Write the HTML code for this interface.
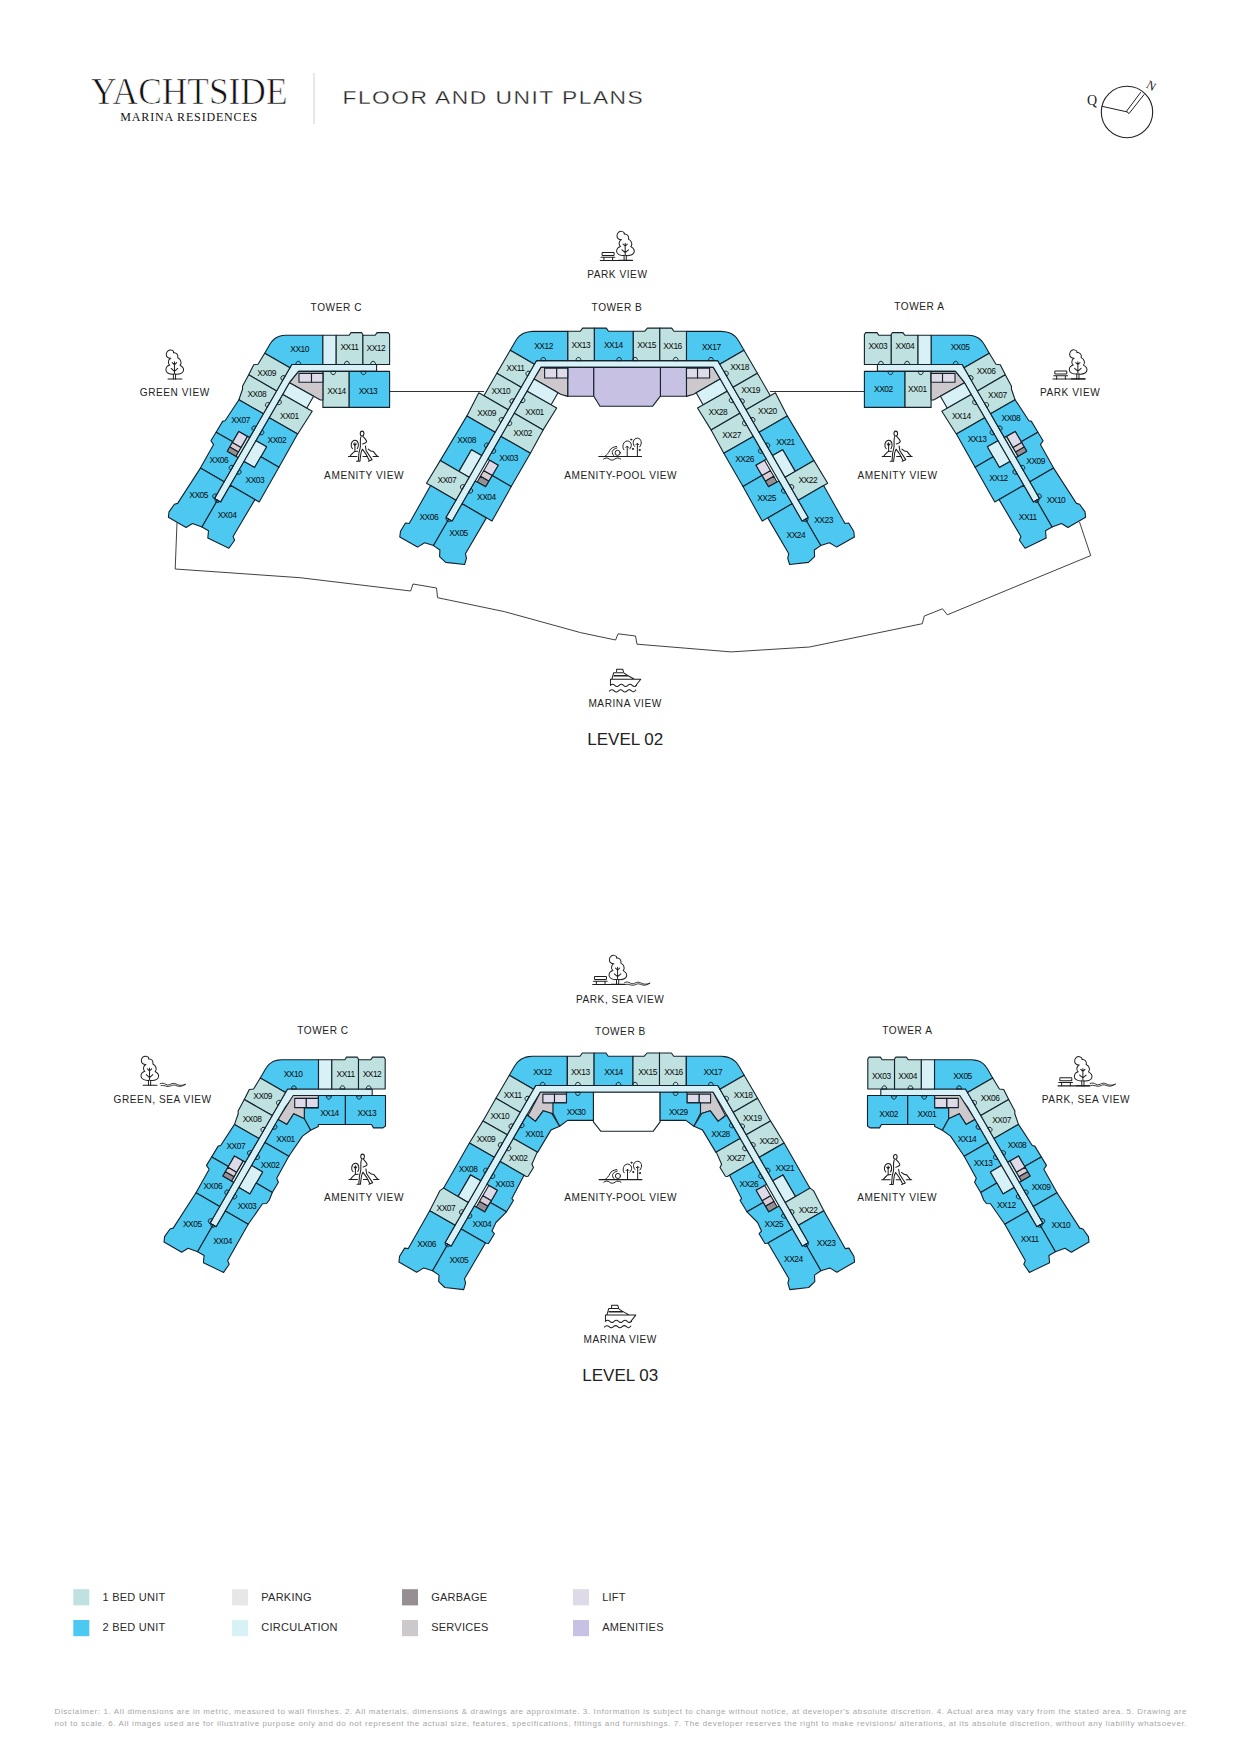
<!DOCTYPE html>
<html><head><meta charset="utf-8">
<style>
html,body{margin:0;padding:0;background:#fff;}
body{width:1241px;height:1754px;position:relative;overflow:hidden;font-family:"Liberation Sans",sans-serif;}
svg{position:absolute;left:0;top:0;}
</style></head><body>
<svg width="1241" height="1754" viewBox="0 0 1241 1754" font-family="Liberation Sans, sans-serif">

<text x="91" y="104.3" font-family="Liberation Serif, serif" font-size="37" textLength="196.5" lengthAdjust="spacingAndGlyphs" fill="#111" stroke="#fff" stroke-width="0.7">YACHTSIDE</text>
<text x="120.3" y="121" font-family="Liberation Serif, serif" font-size="12" textLength="137" lengthAdjust="spacing" fill="#111">MARINA RESIDENCES</text>
<line x1="314" y1="73" x2="314" y2="124" stroke="#d0d0d0" stroke-width="1"/>
<text transform="translate(342.5,103.9) scale(1.2,1)" font-size="19" letter-spacing="1.25" fill="#222" stroke="#fff" stroke-width="0.3">FLOOR AND UNIT PLANS</text>
<circle cx="1127" cy="112" r="25.7" fill="none" stroke="#222" stroke-width="1.1"/>
<path d="M1102,106.3 L1127.5,112 M1126.5,111.3 L1140.8,92.2 M1129,113.6 L1144.2,94.4 M1126.5,111.3 L1129,113.6" stroke="#222" stroke-width="1" fill="none"/>
<text x="1087" y="105" font-family="Liberation Serif, serif" font-size="14" fill="#222">Q</text>
<text x="0" y="0" font-family="Liberation Serif, serif" font-size="12" fill="#222" transform="translate(1145.5,87) rotate(30)">N</text>

<g fill="none" stroke="#2b2b2b" stroke-width="0.9">
<polyline points="177.0,522.7 175.2,569.0 300.0,577.7 410.7,591.0 413.0,584.0 436.5,588.0 437.6,597.7 504.7,611.7 580.5,632.6 615.6,640.0 618.0,633.8 635.5,636.0 637.0,644.2 731.0,651.9 809.5,647.0 922.3,623.7 924.3,616.0 942.5,608.8 947.3,614.8 1090.7,555.6 1079.5,522.0" fill="none" stroke="#2b2b2b" stroke-width="0.9"/>
<polyline points="389.6,391.5 484.0,391.5" fill="none" stroke="#333" stroke-width="1"/>
<polyline points="770.0,391.5 864.4,391.5" fill="none" stroke="#333" stroke-width="1"/>
</g>
<polygon points="445.9,517.6 536.5,360.6 717.7,360.6 808.3,517.6 802.1,521.2 720.1,379.0 713.2,367.4 541.0,367.4 534.1,379.0 452.1,521.2" fill="#d8f1f6" stroke="#13222c" stroke-width="1.1" stroke-linejoin="round"/>
<polygon points="567.7,360.6 567.7,331.3 580.3,331.3 582.6,328.1 594.4,328.1 594.4,360.6" fill="#bfe1df" stroke="#13222c" stroke-width="1.1" stroke-linejoin="round"/>
<polygon points="594.4,360.6 594.4,328.1 606.3,328.1 608.5,331.3 633.3,331.3 633.3,360.6" fill="#4dc8f1" stroke="#13222c" stroke-width="1.1" stroke-linejoin="round"/>
<polygon points="633.3,360.6 633.3,331.3 644.6,331.3 647.4,328.1 659.8,328.1 659.8,360.6" fill="#bfe1df" stroke="#13222c" stroke-width="1.1" stroke-linejoin="round"/>
<polygon points="659.8,360.6 659.8,328.1 671.7,328.1 674.0,331.3 686.5,331.3 686.5,360.6" fill="#bfe1df" stroke="#13222c" stroke-width="1.1" stroke-linejoin="round"/>
<polygon points="567.7,367.4 593.8,367.4 593.8,396.2 567.7,396.2" fill="#c7c2e3" stroke="#13222c" stroke-width="1.1" stroke-linejoin="round"/>
<polygon points="660.4,367.4 686.5,367.4 686.5,396.2 660.4,396.2" fill="#c7c2e3" stroke="#13222c" stroke-width="1.1" stroke-linejoin="round"/>
<polygon points="593.8,367.4 660.4,367.4 660.4,396.2 652.5,406.3 600.0,406.3 593.8,396.2" fill="#c7c2e3" stroke="#13222c" stroke-width="1.1" stroke-linejoin="round"/>
<polygon points="534.4,364.2 510.2,350.2 515.4,341.2 515.4,341.2 517.4,338.2 519.8,335.7 522.6,333.8 525.7,332.5 529.2,331.7 533.0,331.4 567.7,331.4 567.7,360.6 536.5,360.6" fill="#4dc8f1" stroke="#13222c" stroke-width="1.1" stroke-linejoin="round"/>
<polygon points="541.0,367.4 567.7,367.4 567.7,396.4 560.6,394.3 534.1,379.0" fill="#cdc8cb" stroke="#13222c" stroke-width="1.1" stroke-linejoin="round"/>
<polygon points="544.6,368.3 556.7,368.3 556.7,378.0 544.6,378.0" fill="#dedae8" stroke="#13222c" stroke-width="1.1" stroke-linejoin="round"/>
<polygon points="556.7,368.3 567.7,368.3 567.7,378.0 556.7,378.0" fill="#dedae8" stroke="#13222c" stroke-width="1.1" stroke-linejoin="round"/>
<polygon points="534.1,379.0 558.0,392.8 551.0,405.0 527.1,391.2" fill="#d8f1f6" stroke="#13222c" stroke-width="1.1" stroke-linejoin="round"/>
<polygon points="527.1,391.2 556.7,408.0 543.1,429.9 514.3,413.3" fill="#bfe1df" stroke="#13222c" stroke-width="1.1" stroke-linejoin="round"/>
<polygon points="510.2,350.2 496.8,373.2 521.1,387.2 534.4,364.2" fill="#bfe1df" stroke="#13222c" stroke-width="1.1" stroke-linejoin="round"/>
<polygon points="496.8,373.2 483.9,395.8 508.1,409.7 521.1,387.2" fill="#bfe1df" stroke="#13222c" stroke-width="1.1" stroke-linejoin="round"/>
<polygon points="478.8,392.8 466.9,415.9 495.1,432.2 508.1,409.7" fill="#bfe1df" stroke="#13222c" stroke-width="1.1" stroke-linejoin="round"/>
<polygon points="466.9,415.9 440.2,460.6 459.0,471.4 471.5,449.8 481.6,455.6 495.1,432.2" fill="#4dc8f1" stroke="#13222c" stroke-width="1.1" stroke-linejoin="round"/>
<polygon points="471.5,449.8 481.6,455.6 469.1,477.3 459.0,471.4" fill="#d8f1f6" stroke="#13222c" stroke-width="1.1" stroke-linejoin="round"/>
<polygon points="440.2,460.6 426.5,483.3 455.9,500.2 469.1,477.3" fill="#bfe1df" stroke="#13222c" stroke-width="1.1" stroke-linejoin="round"/>
<polygon points="430.6,485.6 409.2,523.5 405.5,523.0 400.5,531.2 399.8,536.9 417.5,547.1 424.7,542.8 433.5,545.6 448.7,519.2 445.9,517.6 455.9,500.2" fill="#4dc8f1" stroke="#13222c" stroke-width="1.1" stroke-linejoin="round"/>
<polygon points="514.3,413.3 543.1,429.9 530.4,453.3 501.0,436.4" fill="#bfe1df" stroke="#13222c" stroke-width="1.1" stroke-linejoin="round"/>
<polygon points="501.0,436.4 530.4,453.3 511.2,486.6 492.2,475.6 498.2,465.2 487.8,459.2" fill="#4dc8f1" stroke="#13222c" stroke-width="1.1" stroke-linejoin="round"/>
<polygon points="489.7,460.3 498.2,465.2 492.2,475.6 483.7,470.7" fill="#dedae8" stroke="#13222c" stroke-width="1.1" stroke-linejoin="round"/>
<polygon points="483.7,470.7 492.2,475.6 488.9,481.2 480.4,476.3" fill="#dccbd2" stroke="#13222c" stroke-width="1.1" stroke-linejoin="round"/>
<polygon points="480.4,476.3 488.9,481.2 485.7,486.8 477.2,481.9" fill="#958f93" stroke="#13222c" stroke-width="1.1" stroke-linejoin="round"/>
<polygon points="492.2,475.6 511.2,486.6 492.0,521.1 462.1,503.8 475.3,480.9 485.7,486.8" fill="#4dc8f1" stroke="#13222c" stroke-width="1.1" stroke-linejoin="round"/>
<polygon points="462.1,503.8 486.4,517.9 465.4,553.7 466.5,558.1 464.6,564.5 445.7,562.4 439.6,556.6 439.9,550.0 433.5,545.6 448.7,519.2 452.1,521.2" fill="#4dc8f1" stroke="#13222c" stroke-width="1.1" stroke-linejoin="round"/>
<polygon points="719.8,364.2 744.0,350.2 738.8,341.2 738.8,341.2 736.8,338.2 734.4,335.7 731.6,333.8 728.5,332.5 725.0,331.7 721.2,331.4 686.5,331.4 686.5,360.6 717.7,360.6" fill="#4dc8f1" stroke="#13222c" stroke-width="1.1" stroke-linejoin="round"/>
<polygon points="713.2,367.4 686.5,367.4 686.5,396.4 693.6,394.3 720.1,379.0" fill="#cdc8cb" stroke="#13222c" stroke-width="1.1" stroke-linejoin="round"/>
<polygon points="709.6,368.3 697.5,368.3 697.5,378.0 709.6,378.0" fill="#dedae8" stroke="#13222c" stroke-width="1.1" stroke-linejoin="round"/>
<polygon points="697.5,368.3 686.5,368.3 686.5,378.0 697.5,378.0" fill="#dedae8" stroke="#13222c" stroke-width="1.1" stroke-linejoin="round"/>
<polygon points="720.1,379.0 696.2,392.8 703.2,405.0 727.1,391.2" fill="#d8f1f6" stroke="#13222c" stroke-width="1.1" stroke-linejoin="round"/>
<polygon points="727.1,391.2 697.5,408.0 711.1,429.9 739.9,413.3" fill="#bfe1df" stroke="#13222c" stroke-width="1.1" stroke-linejoin="round"/>
<polygon points="744.0,350.2 757.4,373.2 733.1,387.2 719.8,364.2" fill="#bfe1df" stroke="#13222c" stroke-width="1.1" stroke-linejoin="round"/>
<polygon points="757.4,373.2 770.3,395.8 746.1,409.7 733.1,387.2" fill="#bfe1df" stroke="#13222c" stroke-width="1.1" stroke-linejoin="round"/>
<polygon points="775.4,392.8 787.3,415.9 759.1,432.2 746.1,409.7" fill="#bfe1df" stroke="#13222c" stroke-width="1.1" stroke-linejoin="round"/>
<polygon points="787.3,415.9 814.0,460.6 795.2,471.4 782.7,449.8 772.6,455.6 759.1,432.2" fill="#4dc8f1" stroke="#13222c" stroke-width="1.1" stroke-linejoin="round"/>
<polygon points="782.7,449.8 772.6,455.6 785.1,477.3 795.2,471.4" fill="#d8f1f6" stroke="#13222c" stroke-width="1.1" stroke-linejoin="round"/>
<polygon points="814.0,460.6 827.7,483.3 798.3,500.2 785.1,477.3" fill="#bfe1df" stroke="#13222c" stroke-width="1.1" stroke-linejoin="round"/>
<polygon points="823.6,485.6 845.0,523.5 848.7,523.0 853.7,531.2 854.4,536.9 836.7,547.1 829.5,542.8 820.7,545.6 805.5,519.2 808.3,517.6 798.3,500.2" fill="#4dc8f1" stroke="#13222c" stroke-width="1.1" stroke-linejoin="round"/>
<polygon points="739.9,413.3 711.1,429.9 723.8,453.3 753.2,436.4" fill="#bfe1df" stroke="#13222c" stroke-width="1.1" stroke-linejoin="round"/>
<polygon points="753.2,436.4 723.8,453.3 743.0,486.6 762.0,475.6 756.0,465.2 766.4,459.2" fill="#4dc8f1" stroke="#13222c" stroke-width="1.1" stroke-linejoin="round"/>
<polygon points="764.5,460.3 756.0,465.2 762.0,475.6 770.5,470.7" fill="#dedae8" stroke="#13222c" stroke-width="1.1" stroke-linejoin="round"/>
<polygon points="770.5,470.7 762.0,475.6 765.3,481.2 773.8,476.3" fill="#dccbd2" stroke="#13222c" stroke-width="1.1" stroke-linejoin="round"/>
<polygon points="773.8,476.3 765.3,481.2 768.5,486.8 777.0,481.9" fill="#958f93" stroke="#13222c" stroke-width="1.1" stroke-linejoin="round"/>
<polygon points="762.0,475.6 743.0,486.6 762.2,521.1 792.1,503.8 778.9,480.9 768.5,486.8" fill="#4dc8f1" stroke="#13222c" stroke-width="1.1" stroke-linejoin="round"/>
<polygon points="792.1,503.8 767.8,517.9 788.8,553.7 787.7,558.1 789.6,564.5 808.5,562.4 814.6,556.6 814.3,550.0 820.7,545.6 805.5,519.2 802.1,521.2" fill="#4dc8f1" stroke="#13222c" stroke-width="1.1" stroke-linejoin="round"/>
<polygon points="291.8,364.5 376.6,364.5 376.6,371.4 298.6,371.4 289.5,382.7 220.6,502.1 214.4,498.6" fill="#d8f1f6" stroke="#13222c" stroke-width="1.1" stroke-linejoin="round"/>
<polygon points="264.7,353.3 269.9,344.3 269.9,344.3 271.8,341.5 274.0,339.3 276.5,337.5 279.4,336.3 282.5,335.5 286.0,335.3 322.9,335.3 322.9,364.5 291.8,364.5 289.9,367.8" fill="#4dc8f1" stroke="#13222c" stroke-width="1.1" stroke-linejoin="round"/>
<polygon points="322.9,335.3 336.2,335.3 336.2,364.5 322.9,364.5" fill="#d8f1f6" stroke="#13222c" stroke-width="1.1" stroke-linejoin="round"/>
<polygon points="336.2,364.5 336.2,335.3 349.2,335.3 351.0,332.6 361.5,332.6 362.9,334.5 362.9,364.5" fill="#bfe1df" stroke="#13222c" stroke-width="1.1" stroke-linejoin="round"/>
<polygon points="362.9,364.5 362.9,335.3 375.2,335.3 377.0,332.6 388.3,332.6 389.6,334.5 389.6,364.5" fill="#bfe1df" stroke="#13222c" stroke-width="1.1" stroke-linejoin="round"/>
<polygon points="322.9,371.4 349.2,371.4 349.2,407.4 322.9,407.4" fill="#bfe1df" stroke="#13222c" stroke-width="1.1" stroke-linejoin="round"/>
<polygon points="349.2,371.4 389.6,371.4 389.6,407.4 349.2,407.4" fill="#4dc8f1" stroke="#13222c" stroke-width="1.1" stroke-linejoin="round"/>
<polygon points="298.6,371.4 322.9,371.4 322.9,400.0 320.4,400.0 289.5,382.7" fill="#cdc8cb" stroke="#13222c" stroke-width="1.1" stroke-linejoin="round"/>
<polygon points="299.0,373.4 311.5,373.4 311.5,382.3 299.0,382.3" fill="#dedae8" stroke="#13222c" stroke-width="1.1" stroke-linejoin="round"/>
<polygon points="311.5,373.4 322.9,373.4 322.9,382.3 311.5,382.3" fill="#dedae8" stroke="#13222c" stroke-width="1.1" stroke-linejoin="round"/>
<polygon points="289.5,382.7 313.6,396.3 306.7,408.3 282.8,394.4" fill="#d8f1f6" stroke="#13222c" stroke-width="1.1" stroke-linejoin="round"/>
<polygon points="282.8,394.4 312.2,411.2 297.7,434.0 269.3,417.8" fill="#bfe1df" stroke="#13222c" stroke-width="1.1" stroke-linejoin="round"/>
<polygon points="264.7,353.3 258.0,364.3 253.7,364.8 248.7,374.8 276.6,390.9 289.9,367.8" fill="#bfe1df" stroke="#13222c" stroke-width="1.1" stroke-linejoin="round"/>
<polygon points="248.7,374.8 242.5,386.2 242.6,389.0 238.9,399.7 263.4,413.8 276.6,390.9" fill="#bfe1df" stroke="#13222c" stroke-width="1.1" stroke-linejoin="round"/>
<polygon points="238.9,399.7 225.1,420.8 222.6,421.4 216.1,432.2 232.8,441.8 238.8,431.4 249.6,437.6 263.4,413.8" fill="#4dc8f1" stroke="#13222c" stroke-width="1.1" stroke-linejoin="round"/>
<polygon points="216.1,432.2 210.9,440.7 213.6,444.6 200.4,468.1 224.1,481.8 238.1,457.5 227.3,451.3 232.8,441.8" fill="#4dc8f1" stroke="#13222c" stroke-width="1.1" stroke-linejoin="round"/>
<polygon points="247.4,436.4 249.6,437.6 238.1,457.5 235.9,456.3" fill="#d8f1f6" stroke="#13222c" stroke-width="1.1" stroke-linejoin="round"/>
<polygon points="238.8,431.4 247.4,436.4 240.9,447.6 232.3,442.6" fill="#dedae8" stroke="#13222c" stroke-width="1.1" stroke-linejoin="round"/>
<polygon points="232.3,442.6 240.9,447.6 238.4,452.0 229.8,447.0" fill="#dccbd2" stroke="#13222c" stroke-width="1.1" stroke-linejoin="round"/>
<polygon points="229.8,447.0 238.4,452.0 235.9,456.3 227.3,451.3" fill="#958f93" stroke="#13222c" stroke-width="1.1" stroke-linejoin="round"/>
<polygon points="200.4,468.1 177.6,503.4 174.4,504.3 169.0,511.9 168.4,517.3 186.1,527.5 192.5,523.5 202.0,527.1 217.4,500.3 214.4,498.6 224.1,481.8" fill="#4dc8f1" stroke="#13222c" stroke-width="1.1" stroke-linejoin="round"/>
<polygon points="269.3,417.8 297.6,434.1 278.9,467.3 260.8,456.8 266.6,446.8 256.0,440.7" fill="#4dc8f1" stroke="#13222c" stroke-width="1.1" stroke-linejoin="round"/>
<polygon points="256.0,440.7 266.6,446.8 254.6,467.6 244.0,461.5" fill="#d8f1f6" stroke="#13222c" stroke-width="1.1" stroke-linejoin="round"/>
<polygon points="260.8,456.8 278.9,467.3 259.2,502.0 230.3,485.3 244.0,461.5 254.6,467.6" fill="#4dc8f1" stroke="#13222c" stroke-width="1.1" stroke-linejoin="round"/>
<polygon points="230.3,485.3 254.9,499.6 233.1,536.5 234.6,540.2 228.9,548.2 207.8,538.0 208.5,530.8 202.0,527.1 217.4,500.3 220.6,502.1" fill="#4dc8f1" stroke="#13222c" stroke-width="1.1" stroke-linejoin="round"/>
<polygon points="962.2,364.5 877.4,364.5 877.4,371.4 955.4,371.4 964.5,382.7 1033.4,502.1 1039.6,498.6" fill="#d8f1f6" stroke="#13222c" stroke-width="1.1" stroke-linejoin="round"/>
<polygon points="989.3,353.3 984.1,344.3 984.1,344.3 982.2,341.5 980.0,339.3 977.5,337.5 974.6,336.3 971.5,335.5 968.0,335.3 931.1,335.3 931.1,364.5 962.2,364.5 964.1,367.8" fill="#4dc8f1" stroke="#13222c" stroke-width="1.1" stroke-linejoin="round"/>
<polygon points="931.1,335.3 917.8,335.3 917.8,364.5 931.1,364.5" fill="#d8f1f6" stroke="#13222c" stroke-width="1.1" stroke-linejoin="round"/>
<polygon points="917.8,364.5 917.8,335.3 904.8,335.3 903.0,332.6 892.5,332.6 891.1,334.5 891.1,364.5" fill="#bfe1df" stroke="#13222c" stroke-width="1.1" stroke-linejoin="round"/>
<polygon points="891.1,364.5 891.1,335.3 878.8,335.3 877.0,332.6 865.7,332.6 864.4,334.5 864.4,364.5" fill="#bfe1df" stroke="#13222c" stroke-width="1.1" stroke-linejoin="round"/>
<polygon points="931.1,371.4 904.8,371.4 904.8,407.4 931.1,407.4" fill="#bfe1df" stroke="#13222c" stroke-width="1.1" stroke-linejoin="round"/>
<polygon points="904.8,371.4 864.4,371.4 864.4,407.4 904.8,407.4" fill="#4dc8f1" stroke="#13222c" stroke-width="1.1" stroke-linejoin="round"/>
<polygon points="955.4,371.4 931.1,371.4 931.1,400.0 933.6,400.0 964.5,382.7" fill="#cdc8cb" stroke="#13222c" stroke-width="1.1" stroke-linejoin="round"/>
<polygon points="955.0,373.4 942.5,373.4 942.5,382.3 955.0,382.3" fill="#dedae8" stroke="#13222c" stroke-width="1.1" stroke-linejoin="round"/>
<polygon points="942.5,373.4 931.1,373.4 931.1,382.3 942.5,382.3" fill="#dedae8" stroke="#13222c" stroke-width="1.1" stroke-linejoin="round"/>
<polygon points="964.5,382.7 940.4,396.3 947.3,408.3 971.2,394.4" fill="#d8f1f6" stroke="#13222c" stroke-width="1.1" stroke-linejoin="round"/>
<polygon points="971.2,394.4 941.8,411.2 956.3,434.0 984.7,417.8" fill="#bfe1df" stroke="#13222c" stroke-width="1.1" stroke-linejoin="round"/>
<polygon points="989.3,353.3 996.0,364.3 1000.3,364.8 1005.3,374.8 977.4,390.9 964.1,367.8" fill="#bfe1df" stroke="#13222c" stroke-width="1.1" stroke-linejoin="round"/>
<polygon points="1005.3,374.8 1011.5,386.2 1011.4,389.0 1015.1,399.7 990.6,413.8 977.4,390.9" fill="#bfe1df" stroke="#13222c" stroke-width="1.1" stroke-linejoin="round"/>
<polygon points="1015.1,399.7 1028.9,420.8 1031.4,421.4 1037.9,432.2 1021.2,441.8 1015.2,431.4 1004.4,437.6 990.6,413.8" fill="#4dc8f1" stroke="#13222c" stroke-width="1.1" stroke-linejoin="round"/>
<polygon points="1037.9,432.2 1043.1,440.7 1040.4,444.6 1053.6,468.1 1029.9,481.8 1015.9,457.5 1026.7,451.3 1021.2,441.8" fill="#4dc8f1" stroke="#13222c" stroke-width="1.1" stroke-linejoin="round"/>
<polygon points="1006.6,436.4 1004.4,437.6 1015.9,457.5 1018.1,456.3" fill="#d8f1f6" stroke="#13222c" stroke-width="1.1" stroke-linejoin="round"/>
<polygon points="1015.2,431.4 1006.6,436.4 1013.1,447.6 1021.7,442.6" fill="#dedae8" stroke="#13222c" stroke-width="1.1" stroke-linejoin="round"/>
<polygon points="1021.7,442.6 1013.1,447.6 1015.6,452.0 1024.2,447.0" fill="#dccbd2" stroke="#13222c" stroke-width="1.1" stroke-linejoin="round"/>
<polygon points="1024.2,447.0 1015.6,452.0 1018.1,456.3 1026.7,451.3" fill="#958f93" stroke="#13222c" stroke-width="1.1" stroke-linejoin="round"/>
<polygon points="1053.6,468.1 1076.4,503.4 1079.6,504.3 1085.0,511.9 1085.6,517.3 1067.9,527.5 1061.5,523.5 1052.0,527.1 1036.6,500.3 1039.6,498.6 1029.9,481.8" fill="#4dc8f1" stroke="#13222c" stroke-width="1.1" stroke-linejoin="round"/>
<polygon points="984.7,417.8 956.4,434.1 975.1,467.3 993.2,456.8 987.4,446.8 998.0,440.7" fill="#4dc8f1" stroke="#13222c" stroke-width="1.1" stroke-linejoin="round"/>
<polygon points="998.0,440.7 987.4,446.8 999.4,467.6 1010.0,461.5" fill="#d8f1f6" stroke="#13222c" stroke-width="1.1" stroke-linejoin="round"/>
<polygon points="993.2,456.8 975.1,467.3 994.8,502.0 1023.7,485.3 1010.0,461.5 999.4,467.6" fill="#4dc8f1" stroke="#13222c" stroke-width="1.1" stroke-linejoin="round"/>
<polygon points="1023.7,485.3 999.1,499.6 1020.9,536.5 1019.4,540.2 1025.1,548.2 1046.2,538.0 1045.5,530.8 1052.0,527.1 1036.6,500.3 1033.4,502.1" fill="#4dc8f1" stroke="#13222c" stroke-width="1.1" stroke-linejoin="round"/>
<polygon points="295.8,364.5 296.0,363.3 296.5,362.2 297.3,361.5 298.3,361.3 299.3,361.5 300.1,362.2 300.6,363.3 300.8,364.5" fill="none" stroke="#13222c" stroke-width="1"/>
<polygon points="958.2,364.5 958.0,363.3 957.5,362.2 956.7,361.5 955.7,361.3 954.7,361.5 953.9,362.2 953.4,363.3 953.2,364.5" fill="none" stroke="#13222c" stroke-width="1"/>
<polygon points="344.4,364.5 344.6,363.3 345.1,362.2 345.9,361.5 346.9,361.3 347.9,361.5 348.7,362.2 349.2,363.3 349.4,364.5" fill="none" stroke="#13222c" stroke-width="1"/>
<polygon points="909.6,364.5 909.4,363.3 908.9,362.2 908.1,361.5 907.1,361.3 906.1,361.5 905.3,362.2 904.8,363.3 904.6,364.5" fill="none" stroke="#13222c" stroke-width="1"/>
<polygon points="370.6,364.5 370.8,363.3 371.3,362.2 372.1,361.5 373.1,361.3 374.1,361.5 374.9,362.2 375.4,363.3 375.6,364.5" fill="none" stroke="#13222c" stroke-width="1"/>
<polygon points="883.4,364.5 883.2,363.3 882.7,362.2 881.9,361.5 880.9,361.3 879.9,361.5 879.1,362.2 878.6,363.3 878.4,364.5" fill="none" stroke="#13222c" stroke-width="1"/>
<polygon points="330.7,371.4 330.9,372.6 331.4,373.7 332.2,374.4 333.2,374.6 334.2,374.4 335.0,373.7 335.5,372.6 335.7,371.4" fill="none" stroke="#13222c" stroke-width="1"/>
<polygon points="923.3,371.4 923.1,372.6 922.6,373.7 921.8,374.4 920.8,374.6 919.8,374.4 919.0,373.7 918.5,372.6 918.3,371.4" fill="none" stroke="#13222c" stroke-width="1"/>
<polygon points="361.0,371.4 361.2,372.6 361.7,373.7 362.5,374.4 363.5,374.6 364.5,374.4 365.3,373.7 365.8,372.6 366.0,371.4" fill="none" stroke="#13222c" stroke-width="1"/>
<polygon points="893.0,371.4 892.8,372.6 892.3,373.7 891.5,374.4 890.5,374.6 889.5,374.4 888.7,373.7 888.2,372.6 888.0,371.4" fill="none" stroke="#13222c" stroke-width="1"/>
<polygon points="285.1,376.1 284.0,375.7 282.9,375.7 281.9,376.1 281.2,376.9 280.9,377.9 281.0,378.9 281.6,379.9 282.5,380.6" fill="none" stroke="#13222c" stroke-width="1"/>
<polygon points="968.9,376.1 970.0,375.7 971.1,375.7 972.1,376.1 972.8,376.9 973.1,377.9 973.0,378.9 972.4,379.9 971.5,380.6" fill="none" stroke="#13222c" stroke-width="1"/>
<polygon points="269.6,403.0 268.5,402.6 267.4,402.6 266.4,403.0 265.7,403.7 265.4,404.7 265.5,405.8 266.1,406.7 267.0,407.5" fill="none" stroke="#13222c" stroke-width="1"/>
<polygon points="984.4,403.0 985.5,402.6 986.6,402.6 987.6,403.0 988.3,403.7 988.6,404.7 988.5,405.8 987.9,406.7 987.0,407.5" fill="none" stroke="#13222c" stroke-width="1"/>
<polygon points="256.1,426.4 255.0,426.0 253.9,426.0 252.9,426.4 252.2,427.1 251.9,428.1 252.0,429.2 252.6,430.1 253.5,430.9" fill="none" stroke="#13222c" stroke-width="1"/>
<polygon points="997.9,426.4 999.0,426.0 1000.1,426.0 1001.1,426.4 1001.8,427.1 1002.1,428.1 1002.0,429.2 1001.4,430.1 1000.5,430.9" fill="none" stroke="#13222c" stroke-width="1"/>
<polygon points="233.4,465.8 232.3,465.4 231.1,465.4 230.2,465.8 229.5,466.5 229.2,467.5 229.3,468.6 229.9,469.5 230.8,470.3" fill="none" stroke="#13222c" stroke-width="1"/>
<polygon points="1020.6,465.8 1021.7,465.4 1022.9,465.4 1023.8,465.8 1024.5,466.5 1024.8,467.5 1024.7,468.6 1024.1,469.5 1023.2,470.3" fill="none" stroke="#13222c" stroke-width="1"/>
<polygon points="216.9,494.4 215.8,494.0 214.6,494.0 213.7,494.4 213.0,495.1 212.7,496.1 212.8,497.1 213.4,498.1 214.3,498.9" fill="none" stroke="#13222c" stroke-width="1"/>
<polygon points="1037.1,494.4 1038.2,494.0 1039.4,494.0 1040.3,494.4 1041.0,495.1 1041.3,496.1 1041.2,497.1 1040.6,498.1 1039.7,498.9" fill="none" stroke="#13222c" stroke-width="1"/>
<polygon points="279.8,399.6 280.6,400.4 281.2,401.3 281.3,402.4 281.0,403.4 280.4,404.1 279.4,404.5 278.2,404.5 277.2,404.1" fill="none" stroke="#13222c" stroke-width="1"/>
<polygon points="974.2,399.6 973.4,400.4 972.8,401.3 972.7,402.4 973.0,403.4 973.6,404.1 974.6,404.5 975.8,404.5 976.8,404.1" fill="none" stroke="#13222c" stroke-width="1"/>
<polygon points="262.3,429.9 263.1,430.7 263.7,431.6 263.8,432.7 263.5,433.7 262.9,434.4 261.9,434.8 260.7,434.8 259.7,434.4" fill="none" stroke="#13222c" stroke-width="1"/>
<polygon points="991.7,429.9 990.9,430.7 990.3,431.6 990.2,432.7 990.5,433.7 991.1,434.4 992.1,434.8 993.3,434.8 994.3,434.4" fill="none" stroke="#13222c" stroke-width="1"/>
<polygon points="239.5,469.3 240.4,470.1 241.0,471.0 241.1,472.1 240.8,473.1 240.1,473.8 239.1,474.2 238.0,474.2 236.9,473.8" fill="none" stroke="#13222c" stroke-width="1"/>
<polygon points="1014.5,469.3 1013.6,470.1 1013.0,471.0 1012.9,472.1 1013.2,473.1 1013.9,473.8 1014.9,474.2 1016.0,474.2 1017.1,473.8" fill="none" stroke="#13222c" stroke-width="1"/>
<polygon points="219.5,501.5 218.9,502.2 218.1,502.5 217.2,502.6 216.3,502.3 215.6,501.6 215.2,500.8 215.1,500.0 215.4,499.1" fill="none" stroke="#13222c" stroke-width="1"/>
<polygon points="1034.5,501.5 1035.1,502.2 1035.9,502.5 1036.8,502.6 1037.7,502.3 1038.4,501.6 1038.8,500.8 1038.9,500.0 1038.6,499.1" fill="none" stroke="#13222c" stroke-width="1"/>
<polygon points="540.7,360.6 540.9,359.4 541.4,358.3 542.2,357.6 543.2,357.4 544.2,357.6 545.0,358.3 545.5,359.4 545.7,360.6" fill="none" stroke="#13222c" stroke-width="1"/>
<polygon points="713.5,360.6 713.3,359.4 712.8,358.3 712.0,357.6 711.0,357.4 710.0,357.6 709.2,358.3 708.7,359.4 708.5,360.6" fill="none" stroke="#13222c" stroke-width="1"/>
<polygon points="576.0,360.6 576.2,359.4 576.7,358.3 577.5,357.6 578.5,357.4 579.5,357.6 580.3,358.3 580.8,359.4 581.0,360.6" fill="none" stroke="#13222c" stroke-width="1"/>
<polygon points="678.2,360.6 678.0,359.4 677.5,358.3 676.7,357.6 675.7,357.4 674.7,357.6 673.9,358.3 673.4,359.4 673.2,360.6" fill="none" stroke="#13222c" stroke-width="1"/>
<polygon points="616.6,360.6 616.8,359.4 617.3,358.3 618.1,357.6 619.1,357.4 620.1,357.6 620.9,358.3 621.4,359.4 621.6,360.6" fill="none" stroke="#13222c" stroke-width="1"/>
<polygon points="637.6,360.6 637.4,359.4 636.9,358.3 636.1,357.6 635.1,357.4 634.1,357.6 633.3,358.3 632.8,359.4 632.6,360.6" fill="none" stroke="#13222c" stroke-width="1"/>
<polygon points="530.1,371.6 529.0,371.2 527.9,371.2 526.9,371.6 526.2,372.4 525.9,373.4 526.1,374.4 526.6,375.4 527.5,376.1" fill="none" stroke="#13222c" stroke-width="1"/>
<polygon points="724.1,371.6 725.2,371.2 726.3,371.2 727.3,371.6 728.0,372.4 728.3,373.4 728.1,374.4 727.6,375.4 726.7,376.1" fill="none" stroke="#13222c" stroke-width="1"/>
<polygon points="514.1,399.3 513.0,398.9 511.9,398.9 510.9,399.3 510.2,400.1 509.9,401.1 510.1,402.1 510.6,403.1 511.5,403.8" fill="none" stroke="#13222c" stroke-width="1"/>
<polygon points="740.1,399.3 741.2,398.9 742.3,398.9 743.3,399.3 744.0,400.1 744.3,401.1 744.1,402.1 743.6,403.1 742.7,403.8" fill="none" stroke="#13222c" stroke-width="1"/>
<polygon points="503.4,418.0 502.3,417.6 501.1,417.6 500.2,418.0 499.5,418.7 499.2,419.7 499.3,420.7 499.9,421.7 500.8,422.5" fill="none" stroke="#13222c" stroke-width="1"/>
<polygon points="750.8,418.0 751.9,417.6 753.1,417.6 754.0,418.0 754.7,418.7 755.0,419.7 754.9,420.7 754.3,421.7 753.4,422.5" fill="none" stroke="#13222c" stroke-width="1"/>
<polygon points="488.6,443.5 487.5,443.1 486.4,443.1 485.4,443.5 484.7,444.3 484.4,445.2 484.6,446.3 485.1,447.3 486.0,448.0" fill="none" stroke="#13222c" stroke-width="1"/>
<polygon points="765.6,443.5 766.7,443.1 767.8,443.1 768.8,443.5 769.5,444.3 769.8,445.2 769.6,446.3 769.1,447.3 768.2,448.0" fill="none" stroke="#13222c" stroke-width="1"/>
<polygon points="464.6,485.1 463.5,484.7 462.4,484.7 461.4,485.1 460.7,485.8 460.4,486.8 460.6,487.9 461.1,488.8 462.0,489.6" fill="none" stroke="#13222c" stroke-width="1"/>
<polygon points="789.6,485.1 790.7,484.7 791.8,484.7 792.8,485.1 793.5,485.8 793.8,486.8 793.6,487.9 793.1,488.8 792.2,489.6" fill="none" stroke="#13222c" stroke-width="1"/>
<polygon points="523.3,397.7 524.2,398.5 524.8,399.5 524.9,400.5 524.6,401.5 523.9,402.2 523.0,402.6 521.8,402.6 520.7,402.2" fill="none" stroke="#13222c" stroke-width="1"/>
<polygon points="730.9,397.7 730.0,398.5 729.4,399.5 729.3,400.5 729.6,401.5 730.3,402.2 731.2,402.6 732.4,402.6 733.5,402.2" fill="none" stroke="#13222c" stroke-width="1"/>
<polygon points="510.1,420.7 511.0,421.4 511.6,422.4 511.7,423.5 511.4,424.4 510.7,425.2 509.7,425.6 508.6,425.6 507.5,425.2" fill="none" stroke="#13222c" stroke-width="1"/>
<polygon points="744.1,420.7 743.2,421.4 742.6,422.4 742.5,423.5 742.8,424.4 743.5,425.2 744.5,425.6 745.6,425.6 746.7,425.2" fill="none" stroke="#13222c" stroke-width="1"/>
<polygon points="494.1,448.4 495.0,449.2 495.6,450.1 495.7,451.2 495.4,452.2 494.7,452.9 493.7,453.3 492.6,453.3 491.5,452.9" fill="none" stroke="#13222c" stroke-width="1"/>
<polygon points="760.1,448.4 759.2,449.2 758.6,450.1 758.5,451.2 758.8,452.2 759.5,452.9 760.5,453.3 761.6,453.3 762.7,452.9" fill="none" stroke="#13222c" stroke-width="1"/>
<polygon points="471.1,488.2 472.0,489.0 472.6,490.0 472.7,491.0 472.4,492.0 471.7,492.7 470.7,493.1 469.6,493.1 468.5,492.7" fill="none" stroke="#13222c" stroke-width="1"/>
<polygon points="783.1,488.2 782.2,489.0 781.6,490.0 781.5,491.0 781.8,492.0 782.5,492.7 783.5,493.1 784.6,493.1 785.7,492.7" fill="none" stroke="#13222c" stroke-width="1"/>
<polygon points="451.0,520.5 450.3,521.2 449.5,521.6 448.5,521.6 447.5,521.3 446.7,520.6 446.3,519.8 446.2,518.8 446.5,517.9" fill="none" stroke="#13222c" stroke-width="1"/>
<polygon points="803.2,520.5 803.9,521.2 804.7,521.6 805.7,521.6 806.7,521.3 807.5,520.6 807.9,519.8 808.0,518.8 807.7,517.9" fill="none" stroke="#13222c" stroke-width="1"/>
<polygon points="445.0,1242.7 535.7,1085.5 717.8,1085.5 808.5,1242.7 802.3,1246.3 720.3,1104.1 713.1,1092.3 540.4,1092.3 533.2,1104.1 451.2,1246.3" fill="#d8f1f6" stroke="#13222c" stroke-width="1.1" stroke-linejoin="round"/>
<polygon points="567.4,1085.5 567.4,1056.2 580.0,1056.2 582.3,1053.0 594.1,1053.0 594.1,1085.5" fill="#bfe1df" stroke="#13222c" stroke-width="1.1" stroke-linejoin="round"/>
<polygon points="594.1,1085.5 594.1,1053.0 606.0,1053.0 608.2,1056.2 633.0,1056.2 633.0,1085.5" fill="#4dc8f1" stroke="#13222c" stroke-width="1.1" stroke-linejoin="round"/>
<polygon points="633.0,1085.5 633.0,1056.2 644.3,1056.2 647.1,1053.0 659.5,1053.0 659.5,1085.5" fill="#bfe1df" stroke="#13222c" stroke-width="1.1" stroke-linejoin="round"/>
<polygon points="659.5,1085.5 659.5,1053.0 671.4,1053.0 673.7,1056.2 686.2,1056.2 686.2,1085.5" fill="#bfe1df" stroke="#13222c" stroke-width="1.1" stroke-linejoin="round"/>
<polygon points="593.4,1092.3 660.1,1092.3 660.1,1121.9 653.1,1131.3 600.9,1131.3 593.4,1121.9" fill="#ffffff" stroke="#13222c" stroke-width="1.1" stroke-linejoin="round"/>
<polygon points="533.5,1089.3 509.3,1075.3 514.5,1066.3 514.5,1066.3 516.6,1063.2 519.1,1060.7 521.9,1058.8 525.1,1057.4 528.6,1056.6 532.4,1056.3 567.1,1056.3 567.1,1085.5 535.7,1085.5" fill="#4dc8f1" stroke="#13222c" stroke-width="1.1" stroke-linejoin="round"/>
<polygon points="540.4,1092.3 567.1,1092.3 567.1,1102.9 553.4,1102.9 553.4,1113.2 551.9,1113.6 543.2,1110.8 535.4,1121.4 528.1,1115.5" fill="#cdc8cb" stroke="#13222c" stroke-width="1.1" stroke-linejoin="round"/>
<polygon points="542.9,1094.1 554.5,1094.1 554.5,1102.9 542.9,1102.9" fill="#dedae8" stroke="#13222c" stroke-width="1.1" stroke-linejoin="round"/>
<polygon points="554.5,1094.1 566.5,1094.1 566.5,1102.9 554.5,1102.9" fill="#dedae8" stroke="#13222c" stroke-width="1.1" stroke-linejoin="round"/>
<polygon points="566.5,1092.3 593.4,1092.3 593.4,1120.4 567.6,1120.4 559.6,1126.2 553.0,1113.2 553.0,1102.9 566.5,1102.9" fill="#4dc8f1" stroke="#13222c" stroke-width="1.1" stroke-linejoin="round"/>
<polygon points="527.7,1115.6 535.4,1121.4 543.2,1110.8 551.9,1113.6 559.6,1126.2 550.9,1130.1 537.6,1152.4 513.4,1138.4 527.0,1114.9" fill="#4dc8f1" stroke="#13222c" stroke-width="1.1" stroke-linejoin="round"/>
<polygon points="509.3,1075.3 495.9,1098.3 520.2,1112.3 533.5,1089.3" fill="#bfe1df" stroke="#13222c" stroke-width="1.1" stroke-linejoin="round"/>
<polygon points="495.9,1098.3 483.0,1120.9 507.2,1134.8 520.2,1112.3" fill="#bfe1df" stroke="#13222c" stroke-width="1.1" stroke-linejoin="round"/>
<polygon points="483.0,1120.9 469.4,1143.0 494.2,1157.3 507.2,1134.8" fill="#bfe1df" stroke="#13222c" stroke-width="1.1" stroke-linejoin="round"/>
<polygon points="469.4,1143.0 442.8,1189.4 458.1,1196.5 470.6,1174.9 480.7,1180.7 494.2,1157.3" fill="#4dc8f1" stroke="#13222c" stroke-width="1.1" stroke-linejoin="round"/>
<polygon points="470.6,1174.9 480.7,1180.7 468.2,1202.4 458.1,1196.5" fill="#d8f1f6" stroke="#13222c" stroke-width="1.1" stroke-linejoin="round"/>
<polygon points="443.5,1188.1 440.0,1190.6 429.7,1210.7 455.0,1225.3 468.2,1202.4" fill="#bfe1df" stroke="#13222c" stroke-width="1.1" stroke-linejoin="round"/>
<polygon points="429.7,1210.7 408.3,1248.6 404.6,1248.1 399.6,1256.3 398.9,1262.0 416.6,1272.2 423.8,1267.9 432.6,1270.7 447.8,1244.3 445.0,1242.7 455.0,1225.3" fill="#4dc8f1" stroke="#13222c" stroke-width="1.1" stroke-linejoin="round"/>
<polygon points="513.4,1138.4 537.2,1152.1 531.9,1164.3 533.5,1167.5 528.1,1176.3 526.2,1176.5 500.1,1161.5" fill="#bfe1df" stroke="#13222c" stroke-width="1.1" stroke-linejoin="round"/>
<polygon points="500.1,1161.5 524.0,1175.3 511.9,1198.6 513.5,1200.3 506.5,1211.8 490.3,1202.4 497.3,1190.3 486.9,1184.3" fill="#4dc8f1" stroke="#13222c" stroke-width="1.1" stroke-linejoin="round"/>
<polygon points="488.8,1185.4 497.3,1190.3 491.3,1200.7 482.8,1195.8" fill="#dedae8" stroke="#13222c" stroke-width="1.1" stroke-linejoin="round"/>
<polygon points="482.8,1195.8 491.3,1200.7 488.0,1206.3 479.5,1201.4" fill="#dccbd2" stroke="#13222c" stroke-width="1.1" stroke-linejoin="round"/>
<polygon points="479.5,1201.4 488.0,1206.3 484.8,1211.9 476.3,1207.0" fill="#958f93" stroke="#13222c" stroke-width="1.1" stroke-linejoin="round"/>
<polygon points="490.3,1202.4 506.5,1211.8 495.9,1222.5 492.0,1231.1 494.4,1233.7 488.5,1243.5 486.0,1243.2 461.2,1228.9 474.4,1206.0 484.8,1211.9" fill="#4dc8f1" stroke="#13222c" stroke-width="1.1" stroke-linejoin="round"/>
<polygon points="461.2,1228.9 485.5,1243.0 464.5,1278.8 465.6,1283.2 463.7,1289.6 444.8,1287.5 438.7,1281.7 439.0,1275.1 432.6,1270.7 447.8,1244.3 451.2,1246.3" fill="#4dc8f1" stroke="#13222c" stroke-width="1.1" stroke-linejoin="round"/>
<polygon points="720.0,1089.3 744.2,1075.3 739.0,1066.3 739.0,1066.3 736.9,1063.2 734.4,1060.7 731.6,1058.8 728.4,1057.4 724.9,1056.6 721.1,1056.3 686.4,1056.3 686.4,1085.5 717.8,1085.5" fill="#4dc8f1" stroke="#13222c" stroke-width="1.1" stroke-linejoin="round"/>
<polygon points="713.1,1092.3 686.4,1092.3 686.4,1102.9 700.1,1102.9 700.1,1113.2 701.6,1113.6 710.3,1110.8 718.1,1121.4 725.4,1115.5" fill="#cdc8cb" stroke="#13222c" stroke-width="1.1" stroke-linejoin="round"/>
<polygon points="710.6,1094.1 699.0,1094.1 699.0,1102.9 710.6,1102.9" fill="#dedae8" stroke="#13222c" stroke-width="1.1" stroke-linejoin="round"/>
<polygon points="699.0,1094.1 687.0,1094.1 687.0,1102.9 699.0,1102.9" fill="#dedae8" stroke="#13222c" stroke-width="1.1" stroke-linejoin="round"/>
<polygon points="687.0,1092.3 660.1,1092.3 660.1,1120.4 685.9,1120.4 693.9,1126.2 700.5,1113.2 700.5,1102.9 687.0,1102.9" fill="#4dc8f1" stroke="#13222c" stroke-width="1.1" stroke-linejoin="round"/>
<polygon points="725.8,1115.6 718.1,1121.4 710.3,1110.8 701.6,1113.6 693.9,1126.2 702.6,1130.1 715.9,1152.4 740.1,1138.4 726.5,1114.9" fill="#4dc8f1" stroke="#13222c" stroke-width="1.1" stroke-linejoin="round"/>
<polygon points="744.2,1075.3 757.6,1098.3 733.3,1112.3 720.0,1089.3" fill="#bfe1df" stroke="#13222c" stroke-width="1.1" stroke-linejoin="round"/>
<polygon points="757.6,1098.3 770.5,1120.9 746.3,1134.8 733.3,1112.3" fill="#bfe1df" stroke="#13222c" stroke-width="1.1" stroke-linejoin="round"/>
<polygon points="770.5,1120.9 784.1,1143.0 759.3,1157.3 746.3,1134.8" fill="#bfe1df" stroke="#13222c" stroke-width="1.1" stroke-linejoin="round"/>
<polygon points="784.1,1143.0 810.7,1189.4 795.4,1196.5 782.9,1174.9 772.8,1180.7 759.3,1157.3" fill="#4dc8f1" stroke="#13222c" stroke-width="1.1" stroke-linejoin="round"/>
<polygon points="782.9,1174.9 772.8,1180.7 785.3,1202.4 795.4,1196.5" fill="#d8f1f6" stroke="#13222c" stroke-width="1.1" stroke-linejoin="round"/>
<polygon points="810.0,1188.1 813.5,1190.6 823.8,1210.7 798.5,1225.3 785.3,1202.4" fill="#bfe1df" stroke="#13222c" stroke-width="1.1" stroke-linejoin="round"/>
<polygon points="823.8,1210.7 845.2,1248.6 848.9,1248.1 853.9,1256.3 854.6,1262.0 836.9,1272.2 829.7,1267.9 820.9,1270.7 805.7,1244.3 808.5,1242.7 798.5,1225.3" fill="#4dc8f1" stroke="#13222c" stroke-width="1.1" stroke-linejoin="round"/>
<polygon points="740.1,1138.4 716.3,1152.1 721.6,1164.3 720.0,1167.5 725.4,1176.3 727.3,1176.5 753.4,1161.5" fill="#bfe1df" stroke="#13222c" stroke-width="1.1" stroke-linejoin="round"/>
<polygon points="753.4,1161.5 729.5,1175.3 741.6,1198.6 740.0,1200.3 747.0,1211.8 763.2,1202.4 756.2,1190.3 766.6,1184.3" fill="#4dc8f1" stroke="#13222c" stroke-width="1.1" stroke-linejoin="round"/>
<polygon points="764.7,1185.4 756.2,1190.3 762.2,1200.7 770.7,1195.8" fill="#dedae8" stroke="#13222c" stroke-width="1.1" stroke-linejoin="round"/>
<polygon points="770.7,1195.8 762.2,1200.7 765.5,1206.3 774.0,1201.4" fill="#dccbd2" stroke="#13222c" stroke-width="1.1" stroke-linejoin="round"/>
<polygon points="774.0,1201.4 765.5,1206.3 768.7,1211.9 777.2,1207.0" fill="#958f93" stroke="#13222c" stroke-width="1.1" stroke-linejoin="round"/>
<polygon points="763.2,1202.4 747.0,1211.8 757.6,1222.5 761.5,1231.1 759.1,1233.7 765.0,1243.5 767.5,1243.2 792.3,1228.9 779.1,1206.0 768.7,1211.9" fill="#4dc8f1" stroke="#13222c" stroke-width="1.1" stroke-linejoin="round"/>
<polygon points="792.3,1228.9 768.0,1243.0 789.0,1278.8 787.9,1283.2 789.8,1289.6 808.7,1287.5 814.8,1281.7 814.5,1275.1 820.9,1270.7 805.7,1244.3 802.3,1246.3" fill="#4dc8f1" stroke="#13222c" stroke-width="1.1" stroke-linejoin="round"/>
<polygon points="287.5,1089.0 372.2,1089.0 372.2,1095.9 294.2,1095.9 285.1,1107.4 216.2,1226.8 210.0,1223.3" fill="#d8f1f6" stroke="#13222c" stroke-width="1.1" stroke-linejoin="round"/>
<polygon points="260.3,1078.0 265.5,1069.0 265.5,1069.0 267.4,1066.2 269.6,1063.9 272.1,1062.1 275.0,1060.8 278.1,1060.1 281.6,1059.8 318.5,1059.8 318.5,1089.0 287.5,1089.0 285.5,1092.5" fill="#4dc8f1" stroke="#13222c" stroke-width="1.1" stroke-linejoin="round"/>
<polygon points="318.5,1059.8 331.8,1059.8 331.8,1089.0 318.5,1089.0" fill="#d8f1f6" stroke="#13222c" stroke-width="1.1" stroke-linejoin="round"/>
<polygon points="331.8,1089.0 331.8,1059.8 344.8,1059.8 346.6,1057.1 357.1,1057.1 358.5,1059.0 358.5,1089.0" fill="#bfe1df" stroke="#13222c" stroke-width="1.1" stroke-linejoin="round"/>
<polygon points="358.5,1089.0 358.5,1059.8 370.8,1059.8 372.6,1057.1 383.9,1057.1 385.2,1059.0 385.2,1089.0" fill="#bfe1df" stroke="#13222c" stroke-width="1.1" stroke-linejoin="round"/>
<polygon points="318.5,1095.5 345.4,1095.5 345.4,1124.5 318.3,1124.5 318.3,1126.4 310.6,1130.3 304.3,1118.7 304.3,1107.6 318.3,1107.6" fill="#4dc8f1" stroke="#13222c" stroke-width="1.1" stroke-linejoin="round"/>
<polygon points="345.4,1095.5 385.5,1095.5 385.5,1126.0 383.0,1127.9 373.5,1127.9 371.5,1124.5 345.4,1124.5" fill="#4dc8f1" stroke="#13222c" stroke-width="1.1" stroke-linejoin="round"/>
<polygon points="293.2,1095.5 318.3,1095.5 318.3,1107.6 304.3,1107.6 304.3,1118.7 293.7,1113.8 286.9,1124.5 278.1,1119.5" fill="#cdc8cb" stroke="#13222c" stroke-width="1.1" stroke-linejoin="round"/>
<polygon points="294.7,1098.4 306.3,1098.4 306.3,1107.6 294.7,1107.6" fill="#dedae8" stroke="#13222c" stroke-width="1.1" stroke-linejoin="round"/>
<polygon points="306.3,1098.4 318.3,1098.4 318.3,1107.6 306.3,1107.6" fill="#dedae8" stroke="#13222c" stroke-width="1.1" stroke-linejoin="round"/>
<polygon points="278.1,1119.5 286.9,1124.5 293.7,1113.8 304.3,1118.7 310.6,1130.3 302.5,1136.1 288.8,1156.3 264.9,1142.5" fill="#4dc8f1" stroke="#13222c" stroke-width="1.1" stroke-linejoin="round"/>
<polygon points="260.3,1078.0 253.6,1089.0 249.3,1089.5 244.3,1099.5 272.2,1115.6 285.5,1092.5" fill="#bfe1df" stroke="#13222c" stroke-width="1.1" stroke-linejoin="round"/>
<polygon points="244.3,1099.5 238.1,1110.9 238.2,1113.7 234.5,1124.4 259.0,1138.5 272.2,1115.6" fill="#bfe1df" stroke="#13222c" stroke-width="1.1" stroke-linejoin="round"/>
<polygon points="234.5,1124.4 220.7,1145.5 218.2,1146.1 211.7,1156.9 228.4,1166.5 234.4,1156.1 245.2,1162.3 259.0,1138.5" fill="#4dc8f1" stroke="#13222c" stroke-width="1.1" stroke-linejoin="round"/>
<polygon points="211.7,1156.9 206.5,1165.4 209.2,1169.3 196.0,1192.8 219.7,1206.5 233.7,1182.2 222.9,1176.0 228.4,1166.5" fill="#4dc8f1" stroke="#13222c" stroke-width="1.1" stroke-linejoin="round"/>
<polygon points="243.0,1161.1 245.2,1162.3 233.7,1182.2 231.5,1181.0" fill="#d8f1f6" stroke="#13222c" stroke-width="1.1" stroke-linejoin="round"/>
<polygon points="234.4,1156.1 243.0,1161.1 236.5,1172.3 227.9,1167.3" fill="#dedae8" stroke="#13222c" stroke-width="1.1" stroke-linejoin="round"/>
<polygon points="227.9,1167.3 236.5,1172.3 234.0,1176.7 225.4,1171.7" fill="#dccbd2" stroke="#13222c" stroke-width="1.1" stroke-linejoin="round"/>
<polygon points="225.4,1171.7 234.0,1176.7 231.5,1181.0 222.9,1176.0" fill="#958f93" stroke="#13222c" stroke-width="1.1" stroke-linejoin="round"/>
<polygon points="196.0,1192.8 173.2,1228.1 170.0,1229.0 164.6,1236.6 164.0,1242.0 181.7,1252.2 188.1,1248.2 197.6,1251.8 213.0,1225.0 210.0,1223.3 219.7,1206.5" fill="#4dc8f1" stroke="#13222c" stroke-width="1.1" stroke-linejoin="round"/>
<polygon points="264.9,1142.5 288.8,1156.3 276.7,1178.2 278.4,1182.2 272.3,1192.5 256.1,1183.1 262.6,1171.9 251.6,1165.5" fill="#4dc8f1" stroke="#13222c" stroke-width="1.1" stroke-linejoin="round"/>
<polygon points="251.6,1165.5 262.6,1171.9 249.9,1193.9 238.9,1187.5" fill="#d8f1f6" stroke="#13222c" stroke-width="1.1" stroke-linejoin="round"/>
<polygon points="256.1,1183.1 272.3,1192.5 269.4,1199.8 266.5,1203.5 262.5,1203.8 248.2,1224.3 225.3,1211.1 238.9,1187.5 249.9,1193.9" fill="#4dc8f1" stroke="#13222c" stroke-width="1.1" stroke-linejoin="round"/>
<polygon points="225.3,1211.1 248.2,1224.3 227.7,1260.6 229.2,1264.3 223.6,1272.4 203.4,1262.7 204.1,1255.5 197.6,1251.8 213.0,1225.0 216.2,1226.8" fill="#4dc8f1" stroke="#13222c" stroke-width="1.1" stroke-linejoin="round"/>
<polygon points="965.5,1089.0 880.8,1089.0 880.8,1095.9 958.8,1095.9 967.9,1107.4 1036.8,1226.8 1043.0,1223.3" fill="#d8f1f6" stroke="#13222c" stroke-width="1.1" stroke-linejoin="round"/>
<polygon points="992.7,1078.0 987.5,1069.0 987.5,1069.0 985.6,1066.2 983.4,1063.9 980.9,1062.1 978.0,1060.8 974.9,1060.1 971.4,1059.8 934.5,1059.8 934.5,1089.0 965.5,1089.0 967.5,1092.5" fill="#4dc8f1" stroke="#13222c" stroke-width="1.1" stroke-linejoin="round"/>
<polygon points="934.5,1059.8 921.2,1059.8 921.2,1089.0 934.5,1089.0" fill="#d8f1f6" stroke="#13222c" stroke-width="1.1" stroke-linejoin="round"/>
<polygon points="921.2,1089.0 921.2,1059.8 908.2,1059.8 906.4,1057.1 895.9,1057.1 894.5,1059.0 894.5,1089.0" fill="#bfe1df" stroke="#13222c" stroke-width="1.1" stroke-linejoin="round"/>
<polygon points="894.5,1089.0 894.5,1059.8 882.2,1059.8 880.4,1057.1 869.1,1057.1 867.8,1059.0 867.8,1089.0" fill="#bfe1df" stroke="#13222c" stroke-width="1.1" stroke-linejoin="round"/>
<polygon points="934.5,1095.5 907.6,1095.5 907.6,1124.5 934.7,1124.5 934.7,1126.4 942.4,1130.3 948.7,1118.7 948.7,1107.6 934.7,1107.6" fill="#4dc8f1" stroke="#13222c" stroke-width="1.1" stroke-linejoin="round"/>
<polygon points="907.6,1095.5 867.5,1095.5 867.5,1126.0 870.0,1127.9 879.5,1127.9 881.5,1124.5 907.6,1124.5" fill="#4dc8f1" stroke="#13222c" stroke-width="1.1" stroke-linejoin="round"/>
<polygon points="959.8,1095.5 934.7,1095.5 934.7,1107.6 948.7,1107.6 948.7,1118.7 959.3,1113.8 966.1,1124.5 974.9,1119.5" fill="#cdc8cb" stroke="#13222c" stroke-width="1.1" stroke-linejoin="round"/>
<polygon points="958.3,1098.4 946.7,1098.4 946.7,1107.6 958.3,1107.6" fill="#dedae8" stroke="#13222c" stroke-width="1.1" stroke-linejoin="round"/>
<polygon points="946.7,1098.4 934.7,1098.4 934.7,1107.6 946.7,1107.6" fill="#dedae8" stroke="#13222c" stroke-width="1.1" stroke-linejoin="round"/>
<polygon points="974.9,1119.5 966.1,1124.5 959.3,1113.8 948.7,1118.7 942.4,1130.3 950.5,1136.1 964.2,1156.3 988.1,1142.5" fill="#4dc8f1" stroke="#13222c" stroke-width="1.1" stroke-linejoin="round"/>
<polygon points="992.7,1078.0 999.4,1089.0 1003.7,1089.5 1008.7,1099.5 980.8,1115.6 967.5,1092.5" fill="#bfe1df" stroke="#13222c" stroke-width="1.1" stroke-linejoin="round"/>
<polygon points="1008.7,1099.5 1014.9,1110.9 1014.8,1113.7 1018.5,1124.4 994.0,1138.5 980.8,1115.6" fill="#bfe1df" stroke="#13222c" stroke-width="1.1" stroke-linejoin="round"/>
<polygon points="1018.5,1124.4 1032.3,1145.5 1034.8,1146.1 1041.3,1156.9 1024.6,1166.5 1018.6,1156.1 1007.8,1162.3 994.0,1138.5" fill="#4dc8f1" stroke="#13222c" stroke-width="1.1" stroke-linejoin="round"/>
<polygon points="1041.3,1156.9 1046.5,1165.4 1043.8,1169.3 1057.0,1192.8 1033.3,1206.5 1019.3,1182.2 1030.1,1176.0 1024.6,1166.5" fill="#4dc8f1" stroke="#13222c" stroke-width="1.1" stroke-linejoin="round"/>
<polygon points="1010.0,1161.1 1007.8,1162.3 1019.3,1182.2 1021.5,1181.0" fill="#d8f1f6" stroke="#13222c" stroke-width="1.1" stroke-linejoin="round"/>
<polygon points="1018.6,1156.1 1010.0,1161.1 1016.5,1172.3 1025.1,1167.3" fill="#dedae8" stroke="#13222c" stroke-width="1.1" stroke-linejoin="round"/>
<polygon points="1025.1,1167.3 1016.5,1172.3 1019.0,1176.7 1027.6,1171.7" fill="#dccbd2" stroke="#13222c" stroke-width="1.1" stroke-linejoin="round"/>
<polygon points="1027.6,1171.7 1019.0,1176.7 1021.5,1181.0 1030.1,1176.0" fill="#958f93" stroke="#13222c" stroke-width="1.1" stroke-linejoin="round"/>
<polygon points="1057.0,1192.8 1079.8,1228.1 1083.0,1229.0 1088.4,1236.6 1089.0,1242.0 1071.3,1252.2 1064.9,1248.2 1055.4,1251.8 1040.0,1225.0 1043.0,1223.3 1033.3,1206.5" fill="#4dc8f1" stroke="#13222c" stroke-width="1.1" stroke-linejoin="round"/>
<polygon points="988.1,1142.5 964.2,1156.3 976.3,1178.2 974.6,1182.2 980.7,1192.5 996.9,1183.1 990.4,1171.9 1001.4,1165.5" fill="#4dc8f1" stroke="#13222c" stroke-width="1.1" stroke-linejoin="round"/>
<polygon points="1001.4,1165.5 990.4,1171.9 1003.1,1193.9 1014.1,1187.5" fill="#d8f1f6" stroke="#13222c" stroke-width="1.1" stroke-linejoin="round"/>
<polygon points="996.9,1183.1 980.7,1192.5 983.6,1199.8 986.5,1203.5 990.5,1203.8 1004.8,1224.3 1027.7,1211.1 1014.1,1187.5 1003.1,1193.9" fill="#4dc8f1" stroke="#13222c" stroke-width="1.1" stroke-linejoin="round"/>
<polygon points="1027.7,1211.1 1004.8,1224.3 1025.3,1260.6 1023.8,1264.3 1029.4,1272.4 1049.6,1262.7 1048.9,1255.5 1055.4,1251.8 1040.0,1225.0 1036.8,1226.8" fill="#4dc8f1" stroke="#13222c" stroke-width="1.1" stroke-linejoin="round"/>
<polygon points="291.4,1089.0 291.6,1087.8 292.1,1086.7 292.9,1086.0 293.9,1085.8 294.9,1086.0 295.7,1086.7 296.2,1087.8 296.4,1089.0" fill="none" stroke="#13222c" stroke-width="1"/>
<polygon points="961.6,1089.0 961.4,1087.8 960.9,1086.7 960.1,1086.0 959.1,1085.8 958.1,1086.0 957.3,1086.7 956.8,1087.8 956.6,1089.0" fill="none" stroke="#13222c" stroke-width="1"/>
<polygon points="340.0,1089.0 340.2,1087.8 340.7,1086.7 341.5,1086.0 342.5,1085.8 343.5,1086.0 344.3,1086.7 344.8,1087.8 345.0,1089.0" fill="none" stroke="#13222c" stroke-width="1"/>
<polygon points="913.0,1089.0 912.8,1087.8 912.3,1086.7 911.5,1086.0 910.5,1085.8 909.5,1086.0 908.7,1086.7 908.2,1087.8 908.0,1089.0" fill="none" stroke="#13222c" stroke-width="1"/>
<polygon points="366.2,1089.0 366.4,1087.8 366.9,1086.7 367.7,1086.0 368.7,1085.8 369.7,1086.0 370.5,1086.7 371.0,1087.8 371.2,1089.0" fill="none" stroke="#13222c" stroke-width="1"/>
<polygon points="886.8,1089.0 886.6,1087.8 886.1,1086.7 885.3,1086.0 884.3,1085.8 883.3,1086.0 882.5,1086.7 882.0,1087.8 881.8,1089.0" fill="none" stroke="#13222c" stroke-width="1"/>
<polygon points="326.3,1095.9 326.5,1097.1 327.0,1098.2 327.8,1098.9 328.8,1099.1 329.8,1098.9 330.6,1098.2 331.1,1097.1 331.3,1095.9" fill="none" stroke="#13222c" stroke-width="1"/>
<polygon points="926.7,1095.9 926.5,1097.1 926.0,1098.2 925.2,1098.9 924.2,1099.1 923.2,1098.9 922.4,1098.2 921.9,1097.1 921.7,1095.9" fill="none" stroke="#13222c" stroke-width="1"/>
<polygon points="356.6,1095.9 356.8,1097.1 357.3,1098.2 358.1,1098.9 359.1,1099.1 360.1,1098.9 360.9,1098.2 361.4,1097.1 361.6,1095.9" fill="none" stroke="#13222c" stroke-width="1"/>
<polygon points="896.4,1095.9 896.2,1097.1 895.7,1098.2 894.9,1098.9 893.9,1099.1 892.9,1098.9 892.1,1098.2 891.6,1097.1 891.4,1095.9" fill="none" stroke="#13222c" stroke-width="1"/>
<polygon points="280.7,1100.8 279.6,1100.4 278.5,1100.4 277.5,1100.8 276.8,1101.6 276.5,1102.6 276.6,1103.6 277.2,1104.6 278.1,1105.3" fill="none" stroke="#13222c" stroke-width="1"/>
<polygon points="972.3,1100.8 973.4,1100.4 974.5,1100.4 975.5,1100.8 976.2,1101.6 976.5,1102.6 976.4,1103.6 975.8,1104.6 974.9,1105.3" fill="none" stroke="#13222c" stroke-width="1"/>
<polygon points="265.2,1127.7 264.1,1127.3 263.0,1127.3 262.0,1127.7 261.3,1128.4 261.0,1129.4 261.1,1130.5 261.7,1131.4 262.6,1132.2" fill="none" stroke="#13222c" stroke-width="1"/>
<polygon points="987.8,1127.7 988.9,1127.3 990.0,1127.3 991.0,1127.7 991.7,1128.4 992.0,1129.4 991.9,1130.5 991.3,1131.4 990.4,1132.2" fill="none" stroke="#13222c" stroke-width="1"/>
<polygon points="251.7,1151.1 250.6,1150.7 249.5,1150.7 248.5,1151.1 247.8,1151.8 247.5,1152.8 247.6,1153.9 248.2,1154.8 249.1,1155.6" fill="none" stroke="#13222c" stroke-width="1"/>
<polygon points="1001.3,1151.1 1002.4,1150.7 1003.5,1150.7 1004.5,1151.1 1005.2,1151.8 1005.5,1152.8 1005.4,1153.9 1004.8,1154.8 1003.9,1155.6" fill="none" stroke="#13222c" stroke-width="1"/>
<polygon points="229.0,1190.5 227.9,1190.1 226.7,1190.1 225.8,1190.5 225.1,1191.2 224.8,1192.2 224.9,1193.3 225.5,1194.2 226.4,1195.0" fill="none" stroke="#13222c" stroke-width="1"/>
<polygon points="1024.0,1190.5 1025.1,1190.1 1026.3,1190.1 1027.2,1190.5 1027.9,1191.2 1028.2,1192.2 1028.1,1193.3 1027.5,1194.2 1026.6,1195.0" fill="none" stroke="#13222c" stroke-width="1"/>
<polygon points="212.5,1219.1 211.4,1218.7 210.2,1218.7 209.3,1219.1 208.6,1219.8 208.3,1220.8 208.4,1221.8 209.0,1222.8 209.9,1223.6" fill="none" stroke="#13222c" stroke-width="1"/>
<polygon points="1040.5,1219.1 1041.6,1218.7 1042.8,1218.7 1043.7,1219.1 1044.4,1219.8 1044.7,1220.8 1044.6,1221.8 1044.0,1222.8 1043.1,1223.6" fill="none" stroke="#13222c" stroke-width="1"/>
<polygon points="275.4,1124.3 276.2,1125.1 276.8,1126.0 276.9,1127.1 276.6,1128.1 276.0,1128.8 275.0,1129.2 273.8,1129.2 272.8,1128.8" fill="none" stroke="#13222c" stroke-width="1"/>
<polygon points="977.6,1124.3 976.8,1125.1 976.2,1126.0 976.1,1127.1 976.4,1128.1 977.0,1128.8 978.0,1129.2 979.2,1129.2 980.2,1128.8" fill="none" stroke="#13222c" stroke-width="1"/>
<polygon points="257.9,1154.6 258.7,1155.4 259.3,1156.3 259.4,1157.4 259.1,1158.4 258.5,1159.1 257.5,1159.5 256.3,1159.5 255.3,1159.1" fill="none" stroke="#13222c" stroke-width="1"/>
<polygon points="995.1,1154.6 994.3,1155.4 993.7,1156.3 993.6,1157.4 993.9,1158.4 994.5,1159.1 995.5,1159.5 996.7,1159.5 997.7,1159.1" fill="none" stroke="#13222c" stroke-width="1"/>
<polygon points="235.1,1194.0 236.0,1194.8 236.6,1195.7 236.7,1196.8 236.4,1197.8 235.7,1198.5 234.7,1198.9 233.6,1198.9 232.5,1198.5" fill="none" stroke="#13222c" stroke-width="1"/>
<polygon points="1017.9,1194.0 1017.0,1194.8 1016.4,1195.7 1016.3,1196.8 1016.6,1197.8 1017.3,1198.5 1018.3,1198.9 1019.4,1198.9 1020.5,1198.5" fill="none" stroke="#13222c" stroke-width="1"/>
<polygon points="215.1,1226.2 214.5,1226.9 213.7,1227.2 212.8,1227.3 211.9,1227.0 211.2,1226.3 210.8,1225.5 210.7,1224.7 211.0,1223.8" fill="none" stroke="#13222c" stroke-width="1"/>
<polygon points="1037.9,1226.2 1038.5,1226.9 1039.3,1227.2 1040.2,1227.3 1041.1,1227.0 1041.8,1226.3 1042.2,1225.5 1042.3,1224.7 1042.0,1223.8" fill="none" stroke="#13222c" stroke-width="1"/>
<polygon points="540.1,1085.5 540.3,1084.3 540.8,1083.2 541.6,1082.5 542.6,1082.3 543.6,1082.5 544.4,1083.2 544.9,1084.3 545.1,1085.5" fill="none" stroke="#13222c" stroke-width="1"/>
<polygon points="713.4,1085.5 713.2,1084.3 712.7,1083.2 711.9,1082.5 710.9,1082.3 709.9,1082.5 709.1,1083.2 708.6,1084.3 708.4,1085.5" fill="none" stroke="#13222c" stroke-width="1"/>
<polygon points="575.4,1085.5 575.6,1084.3 576.1,1083.2 576.9,1082.5 577.9,1082.3 578.9,1082.5 579.7,1083.2 580.2,1084.3 580.4,1085.5" fill="none" stroke="#13222c" stroke-width="1"/>
<polygon points="678.1,1085.5 677.9,1084.3 677.4,1083.2 676.6,1082.5 675.6,1082.3 674.6,1082.5 673.8,1083.2 673.3,1084.3 673.1,1085.5" fill="none" stroke="#13222c" stroke-width="1"/>
<polygon points="616.0,1085.5 616.2,1084.3 616.7,1083.2 617.5,1082.5 618.5,1082.3 619.5,1082.5 620.3,1083.2 620.8,1084.3 621.0,1085.5" fill="none" stroke="#13222c" stroke-width="1"/>
<polygon points="637.5,1085.5 637.3,1084.3 636.8,1083.2 636.0,1082.5 635.0,1082.3 634.0,1082.5 633.2,1083.2 632.7,1084.3 632.5,1085.5" fill="none" stroke="#13222c" stroke-width="1"/>
<polygon points="529.2,1096.7 528.1,1096.3 527.0,1096.3 526.0,1096.7 525.3,1097.5 525.0,1098.5 525.2,1099.5 525.7,1100.5 526.6,1101.2" fill="none" stroke="#13222c" stroke-width="1"/>
<polygon points="724.3,1096.7 725.4,1096.3 726.5,1096.3 727.5,1096.7 728.2,1097.5 728.5,1098.5 728.3,1099.5 727.8,1100.5 726.9,1101.2" fill="none" stroke="#13222c" stroke-width="1"/>
<polygon points="513.2,1124.4 512.1,1124.0 511.0,1124.0 510.0,1124.4 509.3,1125.2 509.0,1126.2 509.2,1127.2 509.7,1128.2 510.6,1128.9" fill="none" stroke="#13222c" stroke-width="1"/>
<polygon points="740.3,1124.4 741.4,1124.0 742.5,1124.0 743.5,1124.4 744.2,1125.2 744.5,1126.2 744.3,1127.2 743.8,1128.2 742.9,1128.9" fill="none" stroke="#13222c" stroke-width="1"/>
<polygon points="502.5,1143.1 501.4,1142.7 500.2,1142.7 499.3,1143.1 498.6,1143.8 498.3,1144.8 498.4,1145.8 499.0,1146.8 499.9,1147.6" fill="none" stroke="#13222c" stroke-width="1"/>
<polygon points="751.0,1143.1 752.1,1142.7 753.3,1142.7 754.2,1143.1 754.9,1143.8 755.2,1144.8 755.1,1145.8 754.5,1146.8 753.6,1147.6" fill="none" stroke="#13222c" stroke-width="1"/>
<polygon points="487.7,1168.6 486.6,1168.2 485.5,1168.2 484.5,1168.6 483.8,1169.4 483.5,1170.3 483.7,1171.4 484.2,1172.4 485.1,1173.1" fill="none" stroke="#13222c" stroke-width="1"/>
<polygon points="765.8,1168.6 766.9,1168.2 768.0,1168.2 769.0,1168.6 769.7,1169.4 770.0,1170.3 769.8,1171.4 769.3,1172.4 768.4,1173.1" fill="none" stroke="#13222c" stroke-width="1"/>
<polygon points="463.7,1210.2 462.6,1209.8 461.5,1209.8 460.5,1210.2 459.8,1210.9 459.5,1211.9 459.7,1213.0 460.2,1213.9 461.1,1214.7" fill="none" stroke="#13222c" stroke-width="1"/>
<polygon points="789.8,1210.2 790.9,1209.8 792.0,1209.8 793.0,1210.2 793.7,1210.9 794.0,1211.9 793.8,1213.0 793.3,1213.9 792.4,1214.7" fill="none" stroke="#13222c" stroke-width="1"/>
<polygon points="522.4,1122.8 523.3,1123.6 523.9,1124.6 524.0,1125.6 523.7,1126.6 523.0,1127.3 522.1,1127.7 520.9,1127.7 519.8,1127.3" fill="none" stroke="#13222c" stroke-width="1"/>
<polygon points="731.1,1122.8 730.2,1123.6 729.6,1124.6 729.5,1125.6 729.8,1126.6 730.5,1127.3 731.4,1127.7 732.6,1127.7 733.7,1127.3" fill="none" stroke="#13222c" stroke-width="1"/>
<polygon points="509.2,1145.8 510.1,1146.5 510.7,1147.5 510.8,1148.6 510.5,1149.5 509.8,1150.3 508.8,1150.7 507.7,1150.7 506.6,1150.3" fill="none" stroke="#13222c" stroke-width="1"/>
<polygon points="744.3,1145.8 743.4,1146.5 742.8,1147.5 742.7,1148.6 743.0,1149.5 743.7,1150.3 744.7,1150.7 745.8,1150.7 746.9,1150.3" fill="none" stroke="#13222c" stroke-width="1"/>
<polygon points="493.2,1173.5 494.1,1174.3 494.7,1175.2 494.8,1176.3 494.5,1177.3 493.8,1178.0 492.8,1178.4 491.7,1178.4 490.6,1178.0" fill="none" stroke="#13222c" stroke-width="1"/>
<polygon points="760.3,1173.5 759.4,1174.3 758.8,1175.2 758.7,1176.3 759.0,1177.3 759.7,1178.0 760.7,1178.4 761.8,1178.4 762.9,1178.0" fill="none" stroke="#13222c" stroke-width="1"/>
<polygon points="470.2,1213.3 471.1,1214.1 471.7,1215.1 471.8,1216.1 471.5,1217.1 470.8,1217.8 469.8,1218.2 468.7,1218.2 467.6,1217.8" fill="none" stroke="#13222c" stroke-width="1"/>
<polygon points="783.3,1213.3 782.4,1214.1 781.8,1215.1 781.7,1216.1 782.0,1217.1 782.7,1217.8 783.7,1218.2 784.8,1218.2 785.9,1217.8" fill="none" stroke="#13222c" stroke-width="1"/>
<polygon points="450.1,1245.6 449.4,1246.3 448.6,1246.7 447.6,1246.7 446.6,1246.4 445.8,1245.7 445.4,1244.9 445.3,1243.9 445.6,1243.0" fill="none" stroke="#13222c" stroke-width="1"/>
<polygon points="803.4,1245.6 804.1,1246.3 804.9,1246.7 805.9,1246.7 806.9,1246.4 807.7,1245.7 808.1,1244.9 808.2,1243.9 807.9,1243.0" fill="none" stroke="#13222c" stroke-width="1"/>
<polygon points="575.4,1092.3 575.6,1093.5 576.1,1094.6 576.9,1095.3 577.9,1095.5 578.9,1095.3 579.7,1094.6 580.2,1093.5 580.4,1092.3" fill="none" stroke="#13222c" stroke-width="1"/>
<polygon points="678.1,1092.3 677.9,1093.5 677.4,1094.6 676.6,1095.3 675.6,1095.5 674.6,1095.3 673.8,1094.6 673.3,1093.5 673.1,1092.3" fill="none" stroke="#13222c" stroke-width="1"/>
<g font-size="8.4" fill="#0a0a0a" text-anchor="middle" letter-spacing="-0.45">
<text x="299.7" y="352.2">XX10</text>
<text x="349.5" y="350.4">XX11</text>
<text x="375.9" y="350.8">XX12</text>
<text x="336.5" y="394.2">XX14</text>
<text x="368.0" y="394.2">XX13</text>
<text x="266.7" y="375.9">XX09</text>
<text x="256.8" y="396.7">XX08</text>
<text x="240.6" y="422.6">XX07</text>
<text x="289.4" y="418.5">XX01</text>
<text x="276.9" y="442.6">XX02</text>
<text x="218.9" y="462.9">XX06</text>
<text x="254.9" y="483.2">XX03</text>
<text x="198.7" y="497.7">XX05</text>
<text x="227.1" y="517.9">XX04</text>
<text x="543.6" y="349.0">XX12</text>
<text x="515.4" y="370.8">XX11</text>
<text x="500.9" y="393.5">XX10</text>
<text x="486.6" y="415.7">XX09</text>
<text x="534.5" y="414.8">XX01</text>
<text x="522.6" y="435.5">XX02</text>
<text x="466.6" y="443.1">XX08</text>
<text x="508.7" y="460.6">XX03</text>
<text x="446.9" y="482.6">XX07</text>
<text x="486.4" y="499.5">XX04</text>
<text x="428.8" y="519.8">XX06</text>
<text x="458.5" y="535.6">XX05</text>
<text x="580.9" y="347.6">XX13</text>
<text x="613.3" y="347.6">XX14</text>
<text x="646.6" y="347.6">XX15</text>
<text x="672.5" y="348.8">XX16</text>
<text x="711.3" y="349.5">XX17</text>
<text x="739.6" y="369.8">XX18</text>
<text x="750.7" y="392.5">XX19</text>
<text x="717.9" y="414.8">XX28</text>
<text x="767.4" y="414.3">XX20</text>
<text x="731.6" y="438.1">XX27</text>
<text x="785.5" y="445.0">XX21</text>
<text x="744.6" y="462.0">XX26</text>
<text x="807.8" y="482.6">XX22</text>
<text x="766.6" y="500.7">XX25</text>
<text x="823.6" y="522.9">XX23</text>
<text x="795.9" y="537.9">XX24</text>
<text x="877.8" y="348.8">XX03</text>
<text x="904.9" y="348.8">XX04</text>
<text x="960.1" y="349.9">XX05</text>
<text x="883.4" y="392.1">XX02</text>
<text x="917.3" y="392.1">XX01</text>
<text x="986.1" y="373.6">XX06</text>
<text x="997.4" y="397.8">XX07</text>
<text x="961.3" y="418.8">XX14</text>
<text x="1010.9" y="421.0">XX08</text>
<text x="977.1" y="441.8">XX13</text>
<text x="1035.7" y="463.9">XX09</text>
<text x="998.5" y="481.3">XX12</text>
<text x="1056.0" y="502.9">XX10</text>
<text x="1027.8" y="519.6">XX11</text>
<text x="293.1" y="1077.2">XX10</text>
<text x="345.6" y="1077.2">XX11</text>
<text x="372.0" y="1077.2">XX12</text>
<text x="329.5" y="1116.1">XX14</text>
<text x="366.9" y="1116.1">XX13</text>
<text x="262.7" y="1099.4">XX09</text>
<text x="252.1" y="1122.1">XX08</text>
<text x="235.8" y="1149.4">XX07</text>
<text x="285.5" y="1141.7">XX01</text>
<text x="270.2" y="1168.2">XX02</text>
<text x="212.8" y="1189.4">XX06</text>
<text x="247.0" y="1209.0">XX03</text>
<text x="192.3" y="1226.7">XX05</text>
<text x="222.6" y="1244.3">XX04</text>
<text x="542.5" y="1075.0">XX12</text>
<text x="580.3" y="1075.0">XX13</text>
<text x="613.5" y="1075.0">XX14</text>
<text x="647.6" y="1075.0">XX15</text>
<text x="673.5" y="1075.0">XX16</text>
<text x="712.9" y="1075.0">XX17</text>
<text x="512.7" y="1097.7">XX11</text>
<text x="576.2" y="1114.8">XX30</text>
<text x="678.3" y="1114.8">XX29</text>
<text x="743.2" y="1097.7">XX18</text>
<text x="499.8" y="1119.3">XX10</text>
<text x="752.3" y="1120.5">XX19</text>
<text x="534.5" y="1136.7">XX01</text>
<text x="720.5" y="1136.7">XX28</text>
<text x="486.0" y="1142.4">XX09</text>
<text x="768.8" y="1143.6">XX20</text>
<text x="518.2" y="1161.4">XX02</text>
<text x="736.0" y="1161.4">XX27</text>
<text x="468.2" y="1171.6">XX08</text>
<text x="784.9" y="1170.8">XX21</text>
<text x="504.6" y="1186.7">XX03</text>
<text x="748.9" y="1186.7">XX26</text>
<text x="445.9" y="1211.4">XX07</text>
<text x="808.2" y="1213.3">XX22</text>
<text x="481.9" y="1227.3">XX04</text>
<text x="773.9" y="1227.3">XX25</text>
<text x="426.6" y="1247.3">XX06</text>
<text x="826.2" y="1245.5">XX23</text>
<text x="458.8" y="1262.5">XX05</text>
<text x="793.4" y="1261.7">XX24</text>
<text x="881.3" y="1078.6">XX03</text>
<text x="907.7" y="1078.6">XX04</text>
<text x="962.5" y="1078.6">XX05</text>
<text x="888.7" y="1117.3">XX02</text>
<text x="926.8" y="1117.3">XX01</text>
<text x="990.2" y="1100.6">XX06</text>
<text x="1001.6" y="1122.5">XX07</text>
<text x="967.0" y="1141.8">XX14</text>
<text x="1017.0" y="1148.3">XX08</text>
<text x="983.1" y="1166.3">XX13</text>
<text x="1041.1" y="1190.3">XX09</text>
<text x="1006.3" y="1208.4">XX12</text>
<text x="1060.9" y="1227.7">XX10</text>
<text x="1029.8" y="1242.4">XX11</text>
</g>
<g font-size="11" fill="#222" text-anchor="middle">
<text transform="translate(336.3,310.6) scale(0.92,1)" letter-spacing="0.6">TOWER C</text>
<text transform="translate(617.0,311.0) scale(0.92,1)" letter-spacing="0.6">TOWER B</text>
<text transform="translate(919.3,310.0) scale(0.92,1)" letter-spacing="0.6">TOWER A</text>
<text transform="translate(174.8,395.8) scale(0.92,1)" letter-spacing="0.6">GREEN VIEW</text>
<text transform="translate(364.1,478.6) scale(0.92,1)" letter-spacing="0.6">AMENITY VIEW</text>
<text transform="translate(617.3,277.9) scale(0.92,1)" letter-spacing="0.6">PARK VIEW</text>
<text transform="translate(620.7,478.7) scale(0.92,1)" letter-spacing="0.6">AMENITY-POOL VIEW</text>
<text transform="translate(897.5,478.6) scale(0.92,1)" letter-spacing="0.6">AMENITY VIEW</text>
<text transform="translate(1070.1,396.2) scale(0.92,1)" letter-spacing="0.6">PARK VIEW</text>
<text transform="translate(625.1,706.8) scale(0.92,1)" letter-spacing="0.6">MARINA VIEW</text>
<text transform="translate(323.0,1034.1) scale(0.92,1)" letter-spacing="0.6">TOWER C</text>
<text transform="translate(620.5,1034.5) scale(0.92,1)" letter-spacing="0.6">TOWER B</text>
<text transform="translate(907.4,1034.3) scale(0.92,1)" letter-spacing="0.6">TOWER A</text>
<text transform="translate(162.6,1103.0) scale(0.92,1)" letter-spacing="0.6">GREEN, SEA VIEW</text>
<text transform="translate(364.0,1201.0) scale(0.92,1)" letter-spacing="0.6">AMENITY VIEW</text>
<text transform="translate(620.1,1003.0) scale(0.92,1)" letter-spacing="0.6">PARK, SEA VIEW</text>
<text transform="translate(620.7,1200.8) scale(0.92,1)" letter-spacing="0.6">AMENITY-POOL VIEW</text>
<text transform="translate(897.2,1201.1) scale(0.92,1)" letter-spacing="0.6">AMENITY VIEW</text>
<text transform="translate(1086.0,1103.1) scale(0.92,1)" letter-spacing="0.6">PARK, SEA VIEW</text>
<text transform="translate(620.2,1343.2) scale(0.92,1)" letter-spacing="0.6">MARINA VIEW</text>
<text x="625.3" y="744.8" font-size="17">LEVEL 02</text>
<text x="620.3" y="1380.6" font-size="17">LEVEL 03</text>
</g>
<g transform="translate(130.00,340.00) scale(0.07252)" fill="none" stroke="#1e1e1e" stroke-width="13.79" stroke-linecap="round" stroke-linejoin="round"><path d="M598,472 C545,475 495,452 495,412 C495,378 518,355 548,346 C522,328 520,272 562,252 C528,252 500,232 500,198 C500,162 532,132 565,138 C590,142 604,156 600,176 C642,170 670,208 658,245 C702,265 718,320 690,348 C728,368 745,402 735,430 C722,462 680,476 628,472"/><path d="M598,470 V538 M628,470 V538 M613,300 V470 M583,312 L613,342 L643,312 M568,392 L613,432 L658,392"/><path d="M525,538 H715" stroke-width="15"/></g>
<g transform="translate(580.00,225.00) scale(0.07252)" fill="none" stroke="#1e1e1e" stroke-width="13.79" stroke-linecap="round" stroke-linejoin="round"><path d="M313,378 H462 Q470,378 470,386 V412 Q470,420 462,420 H313 Q305,420 305,412 V386 Q305,378 313,378 Z"/><path d="M290,445 H480 M330,445 V490 M450,445 V490"/><path d="M280,490 H715" stroke-width="15"/></g><g transform="translate(580.73,221.37) scale(0.07252)" fill="none" stroke="#1e1e1e" stroke-width="13.79" stroke-linecap="round" stroke-linejoin="round"><path d="M598,472 C545,475 495,452 495,412 C495,378 518,355 548,346 C522,328 520,272 562,252 C528,252 500,232 500,198 C500,162 532,132 565,138 C590,142 604,156 600,176 C642,170 670,208 658,245 C702,265 718,320 690,348 C728,368 745,402 735,430 C722,462 680,476 628,472"/><path d="M598,470 V538 M628,470 V538 M613,300 V470 M583,312 L613,342 L643,312 M568,392 L613,432 L658,392"/><path d="M525,538 H715" stroke-width="15"/></g>
<g transform="translate(1032.70,343.50) scale(0.07252)" fill="none" stroke="#1e1e1e" stroke-width="13.79" stroke-linecap="round" stroke-linejoin="round"><path d="M313,378 H462 Q470,378 470,386 V412 Q470,420 462,420 H313 Q305,420 305,412 V386 Q305,378 313,378 Z"/><path d="M290,445 H480 M330,445 V490 M450,445 V490"/><path d="M280,490 H715" stroke-width="15"/></g><g transform="translate(1033.43,339.87) scale(0.07252)" fill="none" stroke="#1e1e1e" stroke-width="13.79" stroke-linecap="round" stroke-linejoin="round"><path d="M598,472 C545,475 495,452 495,412 C495,378 518,355 548,346 C522,328 520,272 562,252 C528,252 500,232 500,198 C500,162 532,132 565,138 C590,142 604,156 600,176 C642,170 670,208 658,245 C702,265 718,320 690,348 C728,368 745,402 735,430 C722,462 680,476 628,472"/><path d="M598,470 V538 M628,470 V538 M613,300 V470 M583,312 L613,342 L643,312 M568,392 L613,432 L658,392"/><path d="M525,538 H715" stroke-width="15"/></g>
<g transform="translate(340.00,425.00) scale(0.04029)" fill="none" stroke="#1e1e1e" stroke-width="26.06" stroke-linecap="round" stroke-linejoin="round"><ellipse cx="548" cy="212" rx="45" ry="60"/><path d="M520,290 C505,330 500,380 505,440 L505,540 C500,590 480,640 470,700 L455,890 M410,900 H495 M495,890 L520,700 C525,660 540,630 555,600 L650,730 L730,885 M705,900 L795,860 L650,640 L630,520 M570,280 C610,320 640,350 660,400 C665,430 630,450 560,470"/><path d="M310,585 C260,540 260,400 365,378 C460,370 480,520 430,585 M370,640 V440 M335,470 L370,510 L405,470"/><path d="M210,780 H420 M570,780 H680 M820,780 H955 M250,775 C280,720 320,700 360,660 L440,650 M700,600 C740,640 790,660 830,660 C860,700 890,740 925,775"/></g>
<g transform="translate(873.70,425.00) scale(0.04029)" fill="none" stroke="#1e1e1e" stroke-width="26.06" stroke-linecap="round" stroke-linejoin="round"><ellipse cx="548" cy="212" rx="45" ry="60"/><path d="M520,290 C505,330 500,380 505,440 L505,540 C500,590 480,640 470,700 L455,890 M410,900 H495 M495,890 L520,700 C525,660 540,630 555,600 L650,730 L730,885 M705,900 L795,860 L650,640 L630,520 M570,280 C610,320 640,350 660,400 C665,430 630,450 560,470"/><path d="M310,585 C260,540 260,400 365,378 C460,370 480,520 430,585 M370,640 V440 M335,470 L370,510 L405,470"/><path d="M210,780 H420 M570,780 H680 M820,780 H955 M250,775 C280,720 320,700 360,660 L440,650 M700,600 C740,640 790,660 830,660 C860,700 890,740 925,775"/></g>
<g transform="translate(590.00,430.00) scale(0.05640)" fill="none" stroke="#1e1e1e" stroke-width="17.73" stroke-linecap="round" stroke-linejoin="round"><path d="M155,470 H915" stroke-width="20"/><circle cx="490" cy="405" r="45"/><path d="M265,465 C300,440 330,410 345,370 C365,320 420,300 470,292 M478,318 C440,330 405,350 395,380 C390,410 405,440 430,465"/><path d="M240,515 C270,490 310,490 340,515 C370,540 410,540 440,515 C470,490 510,490 545,515"/><path d="M600,350 C560,300 590,195 660,195 C735,195 760,290 700,340 M660,290 V465 M635,310 L660,285 L685,310"/><path d="M790,290 C740,230 770,145 840,145 C915,145 930,250 880,300 M840,240 V465 M815,260 L840,235 L865,260"/><circle cx="730" cy="170" r="10" fill="#1e1e1e"/><circle cx="760" cy="335" r="10" fill="#1e1e1e"/><circle cx="880" cy="355" r="10" fill="#1e1e1e"/></g>
<g transform="translate(580.00,660.00) scale(0.07252)" fill="none" stroke="#1e1e1e" stroke-width="13.79" stroke-linecap="round" stroke-linejoin="round"><path d="M505,160 V128 H588 L600,160 M465,175 H600 L650,210 L745,262 M465,175 L440,262 M420,265 H838 L770,352 M420,265 V345"/><path d="M470,218 H655" stroke-dasharray="30,12" stroke-width="20"/><path d="M420,350 C440,330 460,330 480,350 C500,370 520,370 540,350 C560,330 580,330 600,350 C620,370 640,370 660,350 C680,330 700,330 720,350 C740,370 760,370 780,350"/><path d="M405,430 C425,405 450,405 470,425 C490,445 510,445 530,425 C550,405 570,405 590,425 C610,445 630,445 650,425 C670,405 690,405 710,425 C730,445 750,445 770,415"/></g>
<g transform="translate(105.10,1046.20) scale(0.07252)" fill="none" stroke="#1e1e1e" stroke-width="13.79" stroke-linecap="round" stroke-linejoin="round"><path d="M598,472 C545,475 495,452 495,412 C495,378 518,355 548,346 C522,328 520,272 562,252 C528,252 500,232 500,198 C500,162 532,132 565,138 C590,142 604,156 600,176 C642,170 670,208 658,245 C702,265 718,320 690,348 C728,368 745,402 735,430 C722,462 680,476 628,472"/><path d="M598,470 V538 M628,470 V538 M613,300 V470 M583,312 L613,342 L643,312 M568,392 L613,432 L658,392"/><path d="M525,538 H715" stroke-width="15"/></g>
<g transform="translate(135.00,1045.00) scale(0.04836)" fill="none" stroke="#1e1e1e" stroke-width="18.61" stroke-linecap="round" stroke-linejoin="round"><path d="M520,800 C560,780 600,790 640,815 C680,840 720,820 760,800 C800,785 840,800 880,820 C920,840 980,840 1040,815"/><path d="M540,840 C580,830 620,845 660,855 C700,865 740,845 780,830 C820,820 860,845 900,855 C940,860 990,850 1040,815"/></g>
<g transform="translate(572.40,949.00) scale(0.07252)" fill="none" stroke="#1e1e1e" stroke-width="13.79" stroke-linecap="round" stroke-linejoin="round"><path d="M313,378 H462 Q470,378 470,386 V412 Q470,420 462,420 H313 Q305,420 305,412 V386 Q305,378 313,378 Z"/><path d="M290,445 H480 M330,445 V490 M450,445 V490"/><path d="M280,490 H715" stroke-width="15"/></g><g transform="translate(573.13,945.37) scale(0.07252)" fill="none" stroke="#1e1e1e" stroke-width="13.79" stroke-linecap="round" stroke-linejoin="round"><path d="M598,472 C545,475 495,452 495,412 C495,378 518,355 548,346 C522,328 520,272 562,252 C528,252 500,232 500,198 C500,162 532,132 565,138 C590,142 604,156 600,176 C642,170 670,208 658,245 C702,265 718,320 690,348 C728,368 745,402 735,430 C722,462 680,476 628,472"/><path d="M598,470 V538 M628,470 V538 M613,300 V470 M583,312 L613,342 L643,312 M568,392 L613,432 L658,392"/><path d="M525,538 H715" stroke-width="15"/></g>
<g transform="translate(599.50,943.80) scale(0.04836)" fill="none" stroke="#1e1e1e" stroke-width="18.61" stroke-linecap="round" stroke-linejoin="round"><path d="M520,800 C560,780 600,790 640,815 C680,840 720,820 760,800 C800,785 840,800 880,820 C920,840 980,840 1040,815"/><path d="M540,840 C580,830 620,845 660,855 C700,865 740,845 780,830 C820,820 860,845 900,855 C940,860 990,850 1040,815"/></g>
<g transform="translate(1037.70,1050.30) scale(0.07252)" fill="none" stroke="#1e1e1e" stroke-width="13.79" stroke-linecap="round" stroke-linejoin="round"><path d="M313,378 H462 Q470,378 470,386 V412 Q470,420 462,420 H313 Q305,420 305,412 V386 Q305,378 313,378 Z"/><path d="M290,445 H480 M330,445 V490 M450,445 V490"/><path d="M280,490 H715" stroke-width="15"/></g><g transform="translate(1038.43,1046.67) scale(0.07252)" fill="none" stroke="#1e1e1e" stroke-width="13.79" stroke-linecap="round" stroke-linejoin="round"><path d="M598,472 C545,475 495,452 495,412 C495,378 518,355 548,346 C522,328 520,272 562,252 C528,252 500,232 500,198 C500,162 532,132 565,138 C590,142 604,156 600,176 C642,170 670,208 658,245 C702,265 718,320 690,348 C728,368 745,402 735,430 C722,462 680,476 628,472"/><path d="M598,470 V538 M628,470 V538 M613,300 V470 M583,312 L613,342 L643,312 M568,392 L613,432 L658,392"/><path d="M525,538 H715" stroke-width="15"/></g>
<g transform="translate(1065.00,1044.80) scale(0.04836)" fill="none" stroke="#1e1e1e" stroke-width="18.61" stroke-linecap="round" stroke-linejoin="round"><path d="M520,800 C560,780 600,790 640,815 C680,840 720,820 760,800 C800,785 840,800 880,820 C920,840 980,840 1040,815"/><path d="M540,840 C580,830 620,845 660,855 C700,865 740,845 780,830 C820,820 860,845 900,855 C940,860 990,850 1040,815"/></g>
<g transform="translate(340.50,1148.00) scale(0.04029)" fill="none" stroke="#1e1e1e" stroke-width="26.06" stroke-linecap="round" stroke-linejoin="round"><ellipse cx="548" cy="212" rx="45" ry="60"/><path d="M520,290 C505,330 500,380 505,440 L505,540 C500,590 480,640 470,700 L455,890 M410,900 H495 M495,890 L520,700 C525,660 540,630 555,600 L650,730 L730,885 M705,900 L795,860 L650,640 L630,520 M570,280 C610,320 640,350 660,400 C665,430 630,450 560,470"/><path d="M310,585 C260,540 260,400 365,378 C460,370 480,520 430,585 M370,640 V440 M335,470 L370,510 L405,470"/><path d="M210,780 H420 M570,780 H680 M820,780 H955 M250,775 C280,720 320,700 360,660 L440,650 M700,600 C740,640 790,660 830,660 C860,700 890,740 925,775"/></g>
<g transform="translate(873.25,1148.30) scale(0.04029)" fill="none" stroke="#1e1e1e" stroke-width="26.06" stroke-linecap="round" stroke-linejoin="round"><ellipse cx="548" cy="212" rx="45" ry="60"/><path d="M520,290 C505,330 500,380 505,440 L505,540 C500,590 480,640 470,700 L455,890 M410,900 H495 M495,890 L520,700 C525,660 540,630 555,600 L650,730 L730,885 M705,900 L795,860 L650,640 L630,520 M570,280 C610,320 640,350 660,400 C665,430 630,450 560,470"/><path d="M310,585 C260,540 260,400 365,378 C460,370 480,520 430,585 M370,640 V440 M335,470 L370,510 L405,470"/><path d="M210,780 H420 M570,780 H680 M820,780 H955 M250,775 C280,720 320,700 360,660 L440,650 M700,600 C740,640 790,660 830,660 C860,700 890,740 925,775"/></g>
<g transform="translate(590.30,1153.10) scale(0.05640)" fill="none" stroke="#1e1e1e" stroke-width="17.73" stroke-linecap="round" stroke-linejoin="round"><path d="M155,470 H915" stroke-width="20"/><circle cx="490" cy="405" r="45"/><path d="M265,465 C300,440 330,410 345,370 C365,320 420,300 470,292 M478,318 C440,330 405,350 395,380 C390,410 405,440 430,465"/><path d="M240,515 C270,490 310,490 340,515 C370,540 410,540 440,515 C470,490 510,490 545,515"/><path d="M600,350 C560,300 590,195 660,195 C735,195 760,290 700,340 M660,290 V465 M635,310 L660,285 L685,310"/><path d="M790,290 C740,230 770,145 840,145 C915,145 930,250 880,300 M840,240 V465 M815,260 L840,235 L865,260"/><circle cx="730" cy="170" r="10" fill="#1e1e1e"/><circle cx="760" cy="335" r="10" fill="#1e1e1e"/><circle cx="880" cy="355" r="10" fill="#1e1e1e"/></g>
<g transform="translate(575.00,1295.90) scale(0.07252)" fill="none" stroke="#1e1e1e" stroke-width="13.79" stroke-linecap="round" stroke-linejoin="round"><path d="M505,160 V128 H588 L600,160 M465,175 H600 L650,210 L745,262 M465,175 L440,262 M420,265 H838 L770,352 M420,265 V345"/><path d="M470,218 H655" stroke-dasharray="30,12" stroke-width="20"/><path d="M420,350 C440,330 460,330 480,350 C500,370 520,370 540,350 C560,330 580,330 600,350 C620,370 640,370 660,350 C680,330 700,330 720,350 C740,370 760,370 780,350"/><path d="M405,430 C425,405 450,405 470,425 C490,445 510,445 530,425 C550,405 570,405 590,425 C610,445 630,445 650,425 C670,405 690,405 710,425 C730,445 750,445 770,415"/></g>
<rect x="73.3" y="1589.2" width="16" height="16.2" fill="#bfe1df"/>
<text x="102.5" y="1601.3" font-size="11" letter-spacing="0.25" fill="#2a2a2a">1 BED UNIT</text>
<rect x="73.3" y="1620" width="16" height="16.2" fill="#4dc8f1"/>
<text x="102.5" y="1631.3" font-size="11" letter-spacing="0.25" fill="#2a2a2a">2 BED UNIT</text>
<rect x="232.1" y="1589.2" width="16" height="16.2" fill="#e7e7e7"/>
<text x="261.3" y="1601.3" font-size="11" letter-spacing="0.25" fill="#2a2a2a">PARKING</text>
<rect x="232.1" y="1620" width="16" height="16.2" fill="#d8f1f6"/>
<text x="261.3" y="1631.3" font-size="11" letter-spacing="0.25" fill="#2a2a2a">CIRCULATION</text>
<rect x="402" y="1589.2" width="16" height="16.2" fill="#958f93"/>
<text x="431.2" y="1601.3" font-size="11" letter-spacing="0.25" fill="#2a2a2a">GARBAGE</text>
<rect x="402" y="1620" width="16" height="16.2" fill="#cdc8cb"/>
<text x="431.2" y="1631.3" font-size="11" letter-spacing="0.25" fill="#2a2a2a">SERVICES</text>
<rect x="573" y="1589.2" width="16" height="16.2" fill="#dedae8"/>
<text x="602.2" y="1601.3" font-size="11" letter-spacing="0.25" fill="#2a2a2a">LIFT</text>
<rect x="573" y="1620" width="16" height="16.2" fill="#c7c2e3"/>
<text x="602.2" y="1631.3" font-size="11" letter-spacing="0.25" fill="#2a2a2a">AMENITIES</text>
<text x="54.5" y="1714" font-size="8" fill="#a6a6a6" textLength="1132" lengthAdjust="spacing">Disclaimer: 1. All dimensions are in metric, measured to wall finishes. 2. All materials, dimensions &amp; drawings are approximate. 3. Information is subject to change without notice, at developer's absolute discretion. 4. Actual area may vary from the stated area. 5. Drawing are</text>
<text x="54.5" y="1726" font-size="8" fill="#a6a6a6" textLength="1132" lengthAdjust="spacing">not to scale. 6. All images used are for illustrative purpose only and do not represent the actual size, features, specifications, fittings and furnishings. 7. The developer reserves the right to make revisions/ alterations, at its absolute discretion, without any liability whatsoever.</text>
</svg>
</body></html>
